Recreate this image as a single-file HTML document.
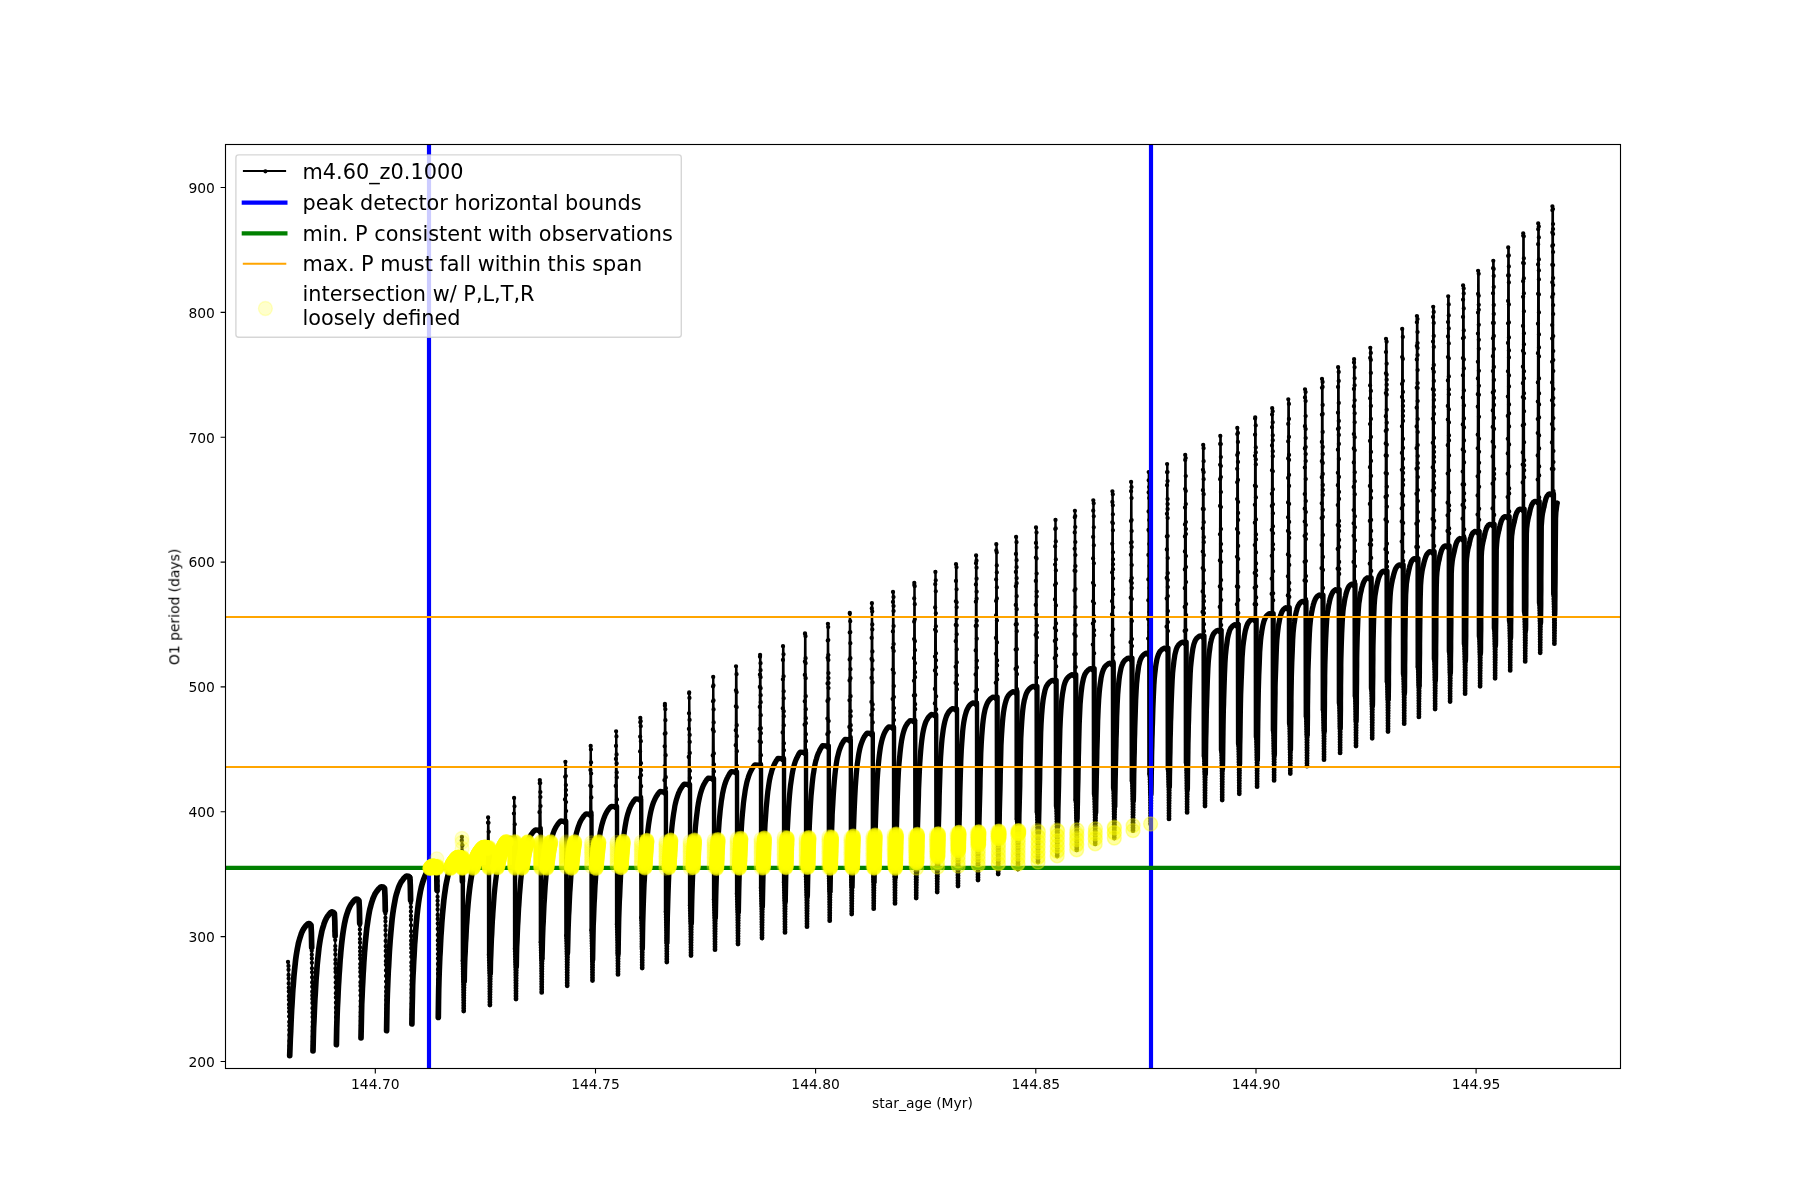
<!DOCTYPE html><html><head><meta charset="utf-8"><title>O1 period vs star_age</title>
<style>html,body{margin:0;padding:0;background:#fff}svg{display:block}text{font-family:'DejaVu Sans','Liberation Sans',sans-serif;fill:#000}.t{font-size:13.89px}.l{font-size:20.83px}.y{fill:#ff0;fill-opacity:.2;stroke:#ff0;stroke-opacity:.2;stroke-width:1.39}.w{fill:#ff0;fill-opacity:.36;stroke:#ff0;stroke-opacity:.36;stroke-width:1.39}.z{fill:#ff0;fill-opacity:.5;stroke:#ff0;stroke-opacity:.5;stroke-width:1.39}</style></head><body>
<svg width="1800" height="1200" viewBox="0 0 1800 1200">
<rect width="1800" height="1200" fill="#fff"/>
<defs><clipPath id="ax"><rect x="225" y="144" width="1395" height="924"/></clipPath></defs>
<g clip-path="url(#ax)">
<path d="M289.7,1055.7 290,1047 290.3,1038.8 290.7,1031 291,1023.7 291.3,1016.8 291.6,1010.3 292,1004.3 292.3,998.8 292.6,993.7 292.9,988.9 293.3,984.5 293.6,980.4 293.9,976.5 294.5,970.3 295.1,964.8 295.6,960 296.2,955.7 296.8,951.9 297.4,948.5 298,945.5 298.5,942.9 299.1,940.7 299.7,938.7 300.3,936.9 300.9,935 301.4,933.4 302,932 302.6,930.7 303.2,929.6 303.8,928.7 304.3,927.8 304.9,927.1 305.5,926.3 306.1,925.5 306.7,924.9 307.2,924.4 307.8,923.9 308.4,923.5 309.7,923.8 311,925 311.4,932.5 311.7,947.5M313,1051 313.3,1038.1 313.6,1027.8 314,1019.9 314.3,1012.5 314.6,1005.5 314.9,999 315.3,993 315.6,987.3 315.9,982.2 316.2,977.4 316.6,973 316.9,968.8 317.2,964.9 317.8,958.7 318.4,953.3 318.9,948.4 319.5,944.1 320.1,940.3 320.7,937 321.3,934 321.8,931.4 322.4,929.1 323,927.1 323.6,925.3 324.1,923.5 324.7,921.9 325.3,920.4 325.9,919.2 326.5,918.1 327,917.1 327.6,916.3 328.2,915.5 328.8,914.7 329.3,914 329.9,913.3 330.5,912.8 331.1,912.3 331.7,911.9 333.1,912.2 334.4,913.4 334.8,920.9 335.1,935.9M336.4,1044.6 336.7,1028.1 337.1,1015.7 337.4,1007.7 337.8,1000.2 338.1,993.1 338.4,986.5 338.8,980.4 339.1,974.7 339.5,969.5 339.8,964.7 340.1,960.2 340.5,956 340.8,952.1 341.4,946 342,940.5 342.6,935.7 343.2,931.4 343.8,927.6 344.4,924.2 345,921.3 345.6,918.6 346.2,916.4 346.8,914.4 347.4,912.6 348,910.8 348.6,909.2 349.3,907.7 349.9,906.5 350.5,905.4 351.1,904.4 351.7,903.5 352.3,902.8 352.9,902 353.5,901.2 354.1,900.6 354.7,900 355.3,899.5 355.9,899.1 357.7,899.4 359,900.6 359.4,908.1 359.7,923.1M361,1038 361.4,1018.7 361.7,1004.1 362.1,995.9 362.4,988.3 362.8,981.2 363.1,974.5 363.5,968.3 363.8,962.5 364.2,957.3 364.5,952.5 364.9,948 365.2,943.7 365.6,939.8 366.2,933.7 366.8,928.2 367.5,923.3 368.1,919.1 368.7,915.3 369.3,911.9 369.9,909 370.6,906.4 371.2,904.1 371.8,902.1 372.4,900.3 373,898.5 373.7,896.9 374.3,895.5 374.9,894.2 375.5,893.1 376.2,892.1 376.8,891.3 377.4,890.5 378,889.7 378.6,888.9 379.3,888.3 379.9,887.7 380.5,887.2 381.1,886.8 383.3,887.1 384.6,888.3 385,895.8 385.3,910.8M386.6,1030.7 386.8,1018 387,1005.6 387.3,995.2 387.5,989.9 387.7,984.8 387.9,979.9 388.1,975.2 388.3,970.7 388.6,966.4 388.8,962.4 389,958.5 389.2,954.7 389.4,951.1 390.1,941.4 390.8,932.9 391.5,925.6 392.1,919.2 392.8,913.7 393.5,908.9 394.2,904.7 394.9,901 395.5,897.7 396.2,894.9 396.9,892.6 397.6,890.4 398.2,888.5 398.9,886.6 399.6,885 400.3,883.6 400.9,882.4 401.6,881.3 402.3,880.4 403,879.5 403.7,878.6 404.3,877.8 405,877.2 405.7,876.6 406.4,876.1 408.6,876.4 409.9,877.6 410.3,885.1 410.6,900.1M411.9,1024 412.1,1009.4 412.4,997 412.6,985.9 412.8,980.5 413,975.3 413.3,970.3 413.5,965.5 413.7,961 414,956.6 414.2,952.5 414.4,948.5 414.6,944.8 414.9,941.1 415.6,931.4 416.3,922.9 417,915.6 417.7,909.3 418.4,903.7 419.1,898.9 419.8,894.7 420.5,891 421.2,887.8 421.9,885 422.6,882.6 423.3,880.5 424,878.5 424.7,876.7 425.4,875.1 426.1,873.7 426.8,872.4 427.5,871.4 428.2,870.4 428.9,869.6 429.6,868.6 430.3,867.9 431,867.2 431.7,866.6 432.4,866.1 435,866.4 436.3,867.6 436.8,875.1 437,890.1M438.3,1017.5 438.5,1001.9 438.7,989.6 439,978.3 439.2,972.3 439.4,967 439.6,961.9 439.8,957.1 440.1,952.4 440.3,948 440.5,943.8 440.7,939.8 440.9,936 441.2,932.3 441.8,922.6 442.5,914.1 443.2,906.8 443.8,900.5 444.5,894.9 445.2,890.1 445.8,885.9 446.5,882.3 447.2,879 447.8,876.2 448.5,873.8 449.2,871.7 449.8,869.8 450.5,867.9 451.2,866.3 451.8,864.9 452.5,863.7 453.2,862.6 453.9,861.6 454.5,860.8 455.2,859.9 455.9,859.1 456.5,858.4 457.2,857.8 457.9,857.3 460.4,857.6 461.7,858.8 462.1,866.3 462.4,881.3M464.2,980.9 464.4,969.6 464.6,962.9 464.8,957.4 465.1,952.3 465.3,947.3 465.5,942.7 465.8,938.2 466,933.9 466.2,929.9 466.4,926 466.7,922.3 467.3,912.6 468,904.1 468.7,896.8 469.4,890.5 470.1,884.9 470.8,880.1 471.5,875.9 472.1,872.2 472.8,869 473.5,866.2 474.2,863.8 474.9,861.7 475.6,859.8 476.2,857.9 476.9,856.3 477.6,854.9 478.3,853.7 479,852.6 479.7,851.6 480.4,850.8 481,849.8 481.7,849 482.4,848.4 483.1,847.8 483.8,847.3 486.6,847.6 487.9,848.8" fill="none" stroke="#000" stroke-width="5.7" stroke-linejoin="round" stroke-linecap="round"/>
<path d="M490.4,973.2 490.6,962 490.9,954.6 491.1,949 491.3,943.7 491.5,938.7 491.8,934 492,929.4 492.2,925.1 492.4,921 492.7,917 492.9,913.3 493.6,903.6 494.2,895.1 494.9,887.8 495.6,881.5 496.3,876 496.9,871.2 497.6,867 498.3,863.3 498.9,860.1 499.6,857.3 500.3,854.9 501,852.8 501.6,850.9 502.3,849 503,847.4 503.6,846 504.3,844.8 505,843.7 505.7,842.7 506.3,841.8 507,840.9 507.7,840.1 508.3,839.4 509,838.8 509.7,838.3 512.6,838.6 514,839.8M516.4,966.1 516.6,954.9 516.8,946.8 517.1,941.2 517.3,935.8 517.5,930.6 517.7,925.8 518,921.2 518.2,916.8 518.4,912.6 518.6,908.7 518.9,904.9 519.5,895.2 520.2,886.7 520.8,879.4 521.5,873.1 522.2,867.6 522.8,862.8 523.5,858.6 524.1,855 524.8,851.7 525.5,848.9 526.1,846.5 526.8,844.4 527.4,842.5 528.1,840.7 528.8,839.1 529.4,837.7 530.1,836.4 530.7,835.3 531.4,834.3 532.1,833.5 532.7,832.5 533.4,831.7 534,831 534.7,830.4 535.4,829.9 538.4,830.2 539.7,831.4M542.1,958.5 542.4,947.4 542.6,938.7 542.8,932.9 543,927.4 543.3,922.2 543.5,917.3 543.7,912.6 543.9,908.1 544.1,903.9 544.4,899.9 544.6,896 545.2,886.3 545.9,877.8 546.5,870.6 547.2,864.3 547.8,858.8 548.5,854 549.1,849.8 549.8,846.2 550.4,842.9 551.1,840.1 551.7,837.7 552.4,835.6 553,833.7 553.7,831.9 554.3,830.3 555,828.9 555.6,827.7 556.3,826.5 556.9,825.5 557.5,824.6 558.2,823.7 558.8,822.9 559.5,822.2 560.1,821.5 560.8,821 563.9,821.3 565.2,822.5M567.6,952.7 567.9,941.6 568.1,932.3 568.3,926.4 568.5,920.8 568.7,915.5 569,910.5 569.2,905.7 569.4,901.2 569.6,896.9 569.8,892.8 570.1,888.9 570.7,879.2 571.3,870.8 572,863.5 572.6,857.2 573.2,851.7 573.9,846.9 574.5,842.8 575.2,839.1 575.8,835.9 576.4,833.1 577.1,830.7 577.7,828.6 578.3,826.7 579,824.9 579.6,823.3 580.2,821.9 580.9,820.6 581.5,819.5 582.1,818.5 582.8,817.6 583.4,816.6 584.1,815.8 584.7,815.1 585.3,814.4 586,813.9 589.1,814.2 590.5,815.4M592.7,959.4 592.9,946.2 593.1,935.2 593.3,925.4 593.6,919.4 593.8,913.7 594,908.2 594.2,903.1 594.5,898.3 594.7,893.7 594.9,889.4 595.1,885.2 595.4,881.3 596,871.6 596.6,863.1 597.3,855.8 597.9,849.6 598.5,844.1 599.2,839.3 599.8,835.2 600.4,831.5 601.1,828.3 601.7,825.5 602.4,823.1 603,821 603.6,819.1 604.3,817.3 604.9,815.7 605.5,814.3 606.2,813.1 606.8,811.9 607.4,810.9 608.1,810 608.7,809 609.4,808.2 610,807.5 610.6,806.8 611.3,806.3 614.6,806.6 616,807.8M618.2,953.7 618.4,940 618.6,929 618.8,918.8 619,912.7 619.2,906.8 619.4,901.2 619.7,896 619.9,891.1 620.1,886.5 620.3,882.1 620.5,877.9 620.7,873.9 621.3,864.2 621.9,855.7 622.5,848.5 623.1,842.2 623.7,836.7 624.3,832 624.9,827.8 625.5,824.2 626.1,820.9 626.7,818.1 627.3,815.7 627.9,813.6 628.5,811.7 629.1,809.9 629.7,808.3 630.3,807 630.9,805.7 631.5,804.5 632.1,803.5 632.7,802.6 633.3,801.7 633.9,800.8 634.5,800.1 635.1,799.4 635.7,798.9 638.9,799.2 640.2,800.4M642.4,947.9 642.6,933.8 642.8,922.8 643.1,912.7 643.3,906 643.5,900 643.7,894.3 643.9,889 644.1,884 644.4,879.3 644.6,874.8 644.8,870.5 645,866.5 645.6,856.8 646.2,848.4 646.8,841.1 647.4,834.8 648,829.4 648.6,824.6 649.2,820.5 649.8,816.9 650.4,813.6 651,810.8 651.6,808.4 652.2,806.3 652.8,804.4 653.4,802.6 654.1,801 654.7,799.7 655.3,798.4 655.9,797.2 656.5,796.2 657.1,795.3 657.7,794.3 658.3,793.4 658.9,792.7 659.5,792 660.1,791.5 663.5,791.8 664.8,793M667,942.2 667.2,927.6 667.4,916.7 667.7,906.5 667.9,899.3 668.1,893.2 668.3,887.4 668.5,882 668.7,876.9 668.9,872.1 669.1,867.6 669.4,863.2 669.6,859.1 670.1,849.5 670.7,841 671.3,833.8 671.9,827.5 672.5,822 673.1,817.3 673.7,813.2 674.3,809.6 674.8,806.3 675.4,803.5 676,801.1 676.6,799 677.2,797.1 677.8,795.3 678.4,793.8 678.9,792.4 679.5,791.2 680.1,789.9 680.7,788.9 681.3,788 681.9,787 682.5,786.1 683,785.4 683.6,784.7 684.2,784.1 687.6,784.4 689,785.6M691.4,922.8 691.6,911.8 691.8,901.7 692,894 692.2,887.8 692.4,881.8 692.6,876.3 692.9,871.2 693.1,866.3 693.3,861.7 693.5,857.3 693.7,853.1 694.3,843.5 694.9,835 695.4,827.8 696,821.6 696.6,816.1 697.2,811.4 697.7,807.3 698.3,803.6 698.9,800.4 699.5,797.6 700.1,795.2 700.6,793.1 701.2,791.2 701.8,789.4 702.4,787.8 702.9,786.5 703.5,785.2 704.1,784 704.7,783 705.2,782 705.8,781.1 706.4,780.2 707,779.4 707.6,778.7 708.1,778.1 711.6,778.4 713,779.6M715.4,917.4 715.6,906.5 715.8,896.4 716,888.3 716.2,881.9 716.4,875.8 716.6,870.1 716.8,864.9 717,860 717.2,855.3 717.4,850.9 717.6,846.6 718.1,837 718.7,828.5 719.2,821.3 719.8,815.1 720.3,809.6 720.9,804.9 721.4,800.8 722,797.2 722.5,793.9 723.1,791.1 723.6,788.7 724.2,786.6 724.7,784.7 725.3,783 725.8,781.4 726.4,780 726.9,778.8 727.5,777.6 728,776.5 728.6,775.6 729.1,774.6 729.6,773.7 730.2,772.9 730.7,772.2 731.3,771.6 734.6,771.9 736,773.1M738.4,911.7 738.6,900.8 738.8,890.8 739,882.3 739.2,875.7 739.4,869.5 739.6,863.7 739.9,858.4 740.1,853.4 740.3,848.6 740.5,844.1 740.7,839.8 741.3,830.2 741.8,821.8 742.4,814.5 743,808.3 743.5,802.8 744.1,798.1 744.7,794.1 745.2,790.5 745.8,787.2 746.4,784.4 746.9,782 747.5,779.9 748.1,778 748.6,776.2 749.2,774.7 749.8,773.3 750.3,772.1 750.9,770.9 751.5,769.8 752,768.8 752.6,767.9 753.2,766.9 753.7,766.1 754.3,765.4 754.9,764.8 758.6,765.1 760,766.3M762.4,906.2 762.6,895.4 762.8,885.4 763,876.6 763.2,869.9 763.4,863.5 763.6,857.6 763.8,852.2 764,847.1 764.2,842.2 764.4,837.7 764.6,833.3 765.1,823.7 765.7,815.3 766.2,808 766.8,801.8 767.3,796.4 767.8,791.7 768.4,787.6 768.9,784 769.4,780.8 770,777.9 770.5,775.5 771.1,773.4 771.6,771.5 772.1,769.8 772.7,768.2 773.2,766.9 773.7,765.7 774.3,764.4 774.8,763.3 775.4,762.4 775.9,761.4 776.4,760.4 777,759.7 777.5,758.9 778,758.3 781.6,758.6 783,759.8M785.3,901.1 785.5,890.3 785.7,880.3 785.9,871.2 786.1,864.3 786.3,857.8 786.5,851.7 786.7,846.2 786.9,841 787.1,836.1 787.3,831.5 787.5,827.1 788,817.5 788.5,809 789,801.8 789.5,795.6 790,790.2 790.5,785.5 791.1,781.4 791.6,777.8 792.1,774.6 792.6,771.7 793.1,769.4 793.6,767.2 794.1,765.3 794.6,763.6 795.1,762.1 795.6,760.7 796.1,759.5 796.7,758.3 797.2,757.2 797.7,756.2 798.2,755.2 798.7,754.2 799.2,753.4 799.7,752.7 800.2,752.1 803.6,752.4 805,753.6M807.4,895.6 807.6,884.9 807.8,874.9 808,865.6 808.2,858.6 808.4,851.9 808.6,845.6 808.8,840.1 809,834.8 809.2,829.8 809.4,825.1 809.6,820.6 810.1,811 810.6,802.6 811.1,795.4 811.7,789.2 812.2,783.8 812.7,779.1 813.2,775 813.8,771.5 814.3,768.2 814.8,765.4 815.3,763 815.8,760.9 816.4,759 816.9,757.2 817.4,755.7 817.9,754.3 818.4,753.1 819,751.9 819.5,750.8 820,749.8 820.5,748.8 821.1,747.8 821.6,747 822.1,746.3 822.6,745.6 826.4,745.9 827.7,747.1M830.1,891.2 830.3,880.3 830.5,870.5 830.7,861.4 830.9,853.8 831.1,847 831.3,840.6 831.5,834.7 831.7,829.2 831.9,824 832.1,819.1 832.2,814.4 832.8,804.1 833.3,795.2 833.8,787.8 834.3,781.6 834.8,776.2 835.3,771.5 835.8,767.5 836.3,763.9 836.8,760.7 837.3,758 837.9,755.7 838.4,753.6 838.9,751.8 839.4,750.1 839.9,748.7 840.4,747.4 840.9,746.2 841.4,745 841.9,744 842.4,743.1 843,742.2 843.5,741.3 844,740.6 844.5,740 845,739.4 848.4,739.7 849.7,740.9M852.1,886.5 852.3,875.7 852.5,866 852.7,857 852.9,849.1 853.1,842.2 853.3,835.7 853.5,829.5 853.7,823.7 853.9,818.2 854.1,813 854.3,808.2 854.8,797.1 855.3,787.6 855.8,780.3 856.3,774 856.8,768.6 857.3,763.9 857.9,759.9 858.4,756.3 858.9,753.2 859.4,750.7 859.9,748.4 860.4,746.5 860.9,744.7 861.5,743.1 862,741.7 862.5,740.5 863,739.3 863.5,738.2 864,737.3 864.5,736.4 865.1,735.6 865.6,734.9 866.1,734.2 866.6,733.7 867.1,733.2 870.4,733.5 871.7,734.7M874.1,881.8 874.3,870.9 874.5,861.4 874.6,852.5 874.8,844.5 875,837.4 875.2,830.7 875.4,824.3 875.6,818.2 875.8,812.4 876,807 876.2,801.9 876.7,790 877.2,779.9 877.7,772.6 878.2,766.3 878.7,760.9 879.2,756.3 879.7,752.3 880.2,748.8 880.7,745.8 881.2,743.4 881.7,741.2 882.2,739.3 882.7,737.6 883.2,736.1 883.7,734.8 884.2,733.6 884.7,732.4 885.2,731.5 885.7,730.6 886.2,729.8 886.7,729.1 887.2,728.4 887.7,727.9 888.2,727.4 888.7,726.9 891.6,727.2 893,728.4M895.3,877 895.5,866 895.7,856.7 895.9,847.9 896.1,839.8 896.3,832.5 896.5,825.7 896.7,819.2 896.9,812.7 897,806.6 897.2,800.9 897.4,795.6 897.9,782.7 898.4,772.3 898.9,764.9 899.5,758.6 900,753.2 900.5,748.6 901,744.6 901.5,741.1 902,738.4 902.5,736 903,733.9 903.5,732.1 904,730.4 904.5,729 905,727.8 905.5,726.6 906,725.6 906.6,724.7 907.1,723.9 907.6,723.2 908.1,722.5 908.6,722 909.1,721.5 909.6,721 910.1,720.6 912.9,720.9 914.2,722.1M916.6,872.3 916.8,861.3 917,852.1 917.1,843.4 917.3,835.3 917.5,827.9 917.7,821 917.9,814.4 918.1,807.5 918.3,801.1 918.5,795.1 918.6,789.5 919.2,775.4 919.7,764.8 920.2,757.4 920.7,751 921.2,745.6 921.7,741 922.2,737.1 922.7,733.8 923.2,731.2 923.7,728.9 924.2,726.9 924.7,725.1 925.2,723.6 925.7,722.2 926.2,721 926.8,720 927.3,719.1 927.8,718.2 928.3,717.5 928.8,716.8 929.3,716.3 929.8,715.8 930.3,715.3 930.8,714.9 931.3,714.5 933.9,714.8 935.2,716M937.6,867.5 937.8,856.8 937.9,847.7 938.1,839.2 938.3,831.2 938.5,823.6 938.7,816.5 938.9,809.9 939.1,802.7 939.2,795.9 939.4,789.6 939.6,783.7 940.1,768.3 940.6,757.5 941.1,750.1 941.6,743.7 942.1,738.3 942.7,733.7 943.2,729.9 943.7,726.9 944.2,724.3 944.7,722.1 945.2,720.2 945.7,718.5 946.2,717 946.7,715.7 947.2,714.6 947.7,713.7 948.2,712.8 948.7,712.1 949.2,711.4 949.7,710.8 950.2,710.3 950.7,709.8 951.2,709.4 951.7,709 952.3,708.7 954.6,709 956,710.2M958.5,852.3 958.7,843.3 958.8,834.9 959,827 959.2,819.4 959.4,812.2 959.6,805.4 959.7,798.1 959.9,790.9 960.1,784.1 960.3,777.9 960.8,760.9 961.3,750.3 961.8,742.8 962.3,736.4 962.7,731 963.2,726.5 963.7,722.8 964.2,720 964.7,717.5 965.2,715.4 965.7,713.6 966.2,711.9 966.7,710.5 967.2,709.4 967.7,708.4 968.2,707.5 968.6,706.7 969.1,706 969.6,705.4 970.1,704.9 970.6,704.4 971.1,704 971.6,703.6 972.1,703.2 972.6,702.9 974.6,703.2 976,704.4M978.5,847.7 978.7,838.8 978.9,830.5 979,822.7 979.2,815.2 979.4,807.8 979.6,800.9 979.8,793.6 980,785.8 980.1,778.7 980.3,772.1 980.8,753.1 981.3,743 981.8,735.4 982.3,729 982.8,723.6 983.3,719.3 983.8,715.8 984.3,713.1 984.8,710.7 985.3,708.7 985.9,706.9 986.4,705.4 986.9,704.1 987.4,703 987.9,702.1 988.4,701.3 988.9,700.6 989.4,700 989.9,699.4 990.4,698.9 990.9,698.5 991.4,698.1 991.9,697.7 992.4,697.4 992.9,697.1 994.9,697.4 996.2,698.6M998.7,843.4 998.9,834.7 999.1,826.5 999.3,818.8 999.4,811.5 999.6,803.9 999.8,796.8 1000,789.6 1000.2,781.3 1000.3,773.7 1000.5,766.7 1001,745.4 1001.5,736 1002,728.4 1002.5,721.9 1003,716.6 1003.5,712.4 1004,709.3 1004.5,706.6 1005,704.3 1005.5,702.4 1006,700.7 1006.5,699.3 1007,698.1 1007.4,697.1 1007.9,696.3 1008.4,695.5 1008.9,694.9 1009.4,694.3 1009.9,693.8 1010.4,693.4 1010.9,693 1011.4,692.6 1011.9,692.2 1012.4,691.9 1012.9,691.7 1014.6,692 1016,693.2M1018.5,839.3 1018.7,830.6 1018.9,822.6 1019,814.9 1019.2,807.7 1019.4,800.2 1019.6,792.9 1019.8,786 1019.9,777 1020.1,768.9 1020.3,761.4 1020.8,738.3 1021.3,729.1 1021.8,721.4 1022.3,714.9 1022.8,709.8 1023.3,705.9 1023.8,702.9 1024.3,700.3 1024.9,698.2 1025.4,696.3 1025.9,694.7 1026.4,693.4 1026.9,692.4 1027.4,691.5 1027.9,690.7 1028.4,690 1028.9,689.4 1029.4,688.9 1029.9,688.4 1030.4,688 1030.9,687.6 1031.4,687.3 1031.9,686.9 1032.4,686.7 1033,686.4 1034.7,686.7 1036,687.9M1038.5,832.3 1038.6,823.6 1038.8,815.5 1039,807.7 1039.1,800.5 1039.3,792.8 1039.5,785.6 1039.7,778.4 1039.8,770 1040,762.3 1040.2,755.3 1040.7,733.2 1041.1,723.6 1041.6,715.6 1042.1,709.2 1042.6,704.1 1043.1,700 1043.6,697 1044.1,694.4 1044.6,692.2 1045,690.3 1045.5,688.7 1046,687.3 1046.5,686.3 1047,685.4 1047.5,684.6 1048,683.9 1048.5,683.3 1048.9,682.8 1049.4,682.3 1049.9,681.9 1050.4,681.5 1050.9,681.2 1051.4,680.8 1051.9,680.6 1052.4,680.3 1053.9,680.6 1055.2,681.8M1057.7,825.8 1057.9,817 1058,808.7 1058.2,800.9 1058.4,793.5 1058.6,785.8 1058.7,778.7 1058.9,771.3 1059.1,763.5 1059.2,756.3 1059.4,749.7 1059.9,729.2 1060.4,718.5 1060.9,710.3 1061.4,703.9 1061.9,698.8 1062.4,694.7 1062.9,691.6 1063.4,688.9 1063.8,686.6 1064.3,684.7 1064.8,683.1 1065.3,681.7 1065.8,680.7 1066.3,679.7 1066.8,678.9 1067.3,678.2 1067.8,677.6 1068.3,677.1 1068.8,676.7 1069.3,676.2 1069.8,675.9 1070.3,675.5 1070.8,675.2 1071.3,674.9 1071.8,674.7 1073.4,675 1074.7,676.2M1077.2,818.8 1077.3,809.8 1077.5,801.4 1077.6,793.5 1077.8,785.9 1078,778.3 1078.1,771.3 1078.3,763.9 1078.4,756.6 1078.6,749.8 1078.7,743.6 1079.2,724.5 1079.7,713.1 1080.1,704.4 1080.6,698.2 1081.1,693 1081.6,688.9 1082,685.7 1082.5,682.9 1083,680.6 1083.4,678.7 1083.9,677 1084.4,675.6 1084.8,674.5 1085.3,673.6 1085.8,672.8 1086.3,672.1 1086.7,671.5 1087.2,671 1087.7,670.5 1088.1,670.1 1088.6,669.7 1089.1,669.4 1089.5,669.1 1090,668.8 1090.5,668.6 1091.9,668.9 1093.2,670.1M1095.7,812.4 1095.8,803.4 1096,794.8 1096.2,786.8 1096.3,779 1096.5,771.6 1096.6,764.6 1096.8,757.3 1096.9,750.5 1097.1,744.1 1097.3,738.2 1097.7,720.5 1098.2,708.4 1098.7,699.4 1099.2,693.1 1099.7,688 1100.2,683.9 1100.7,680.6 1101.1,677.7 1101.6,675.4 1102.1,673.4 1102.6,671.8 1103.1,670.3 1103.6,669.2 1104.1,668.3 1104.5,667.4 1105,666.7 1105.5,666.1 1106,665.6 1106.5,665.2 1107,664.7 1107.5,664.4 1107.9,664 1108.4,663.7 1108.9,663.5 1109.4,663.2 1111,663.5 1112.3,664.7M1114.8,806.2 1114.9,796.9 1115.1,788.3 1115.2,780.1 1115.4,772.3 1115.5,764.9 1115.7,758 1115.8,751.1 1116,744.7 1116.1,738.7 1116.3,733.1 1116.7,716.4 1117.2,704.1 1117.7,694.6 1118.2,688.3 1118.7,683.2 1119.1,679.1 1119.6,675.7 1120.1,672.7 1120.6,670.3 1121,668.3 1121.5,666.6 1122,665.2 1122.5,664.1 1122.9,663.1 1123.4,662.2 1123.9,661.5 1124.4,660.9 1124.8,660.4 1125.3,660 1125.8,659.6 1126.3,659.2 1126.7,658.9 1127.2,658.6 1127.7,658.3 1128.2,658.1 1129.7,658.4 1131,659.6M1133.4,800.1 1133.6,790.7 1133.7,781.9 1133.8,773.6 1134,765.8 1134.1,758.5 1134.3,751.6 1134.4,745.2 1134.5,739.2 1134.7,733.5 1134.8,728.2 1135.3,712.6 1135.7,700 1136.2,690.1 1136.6,683.8 1137.1,678.7 1137.5,674.6 1138,671.1 1138.4,668.1 1138.8,665.6 1139.3,663.6 1139.7,661.8 1140.2,660.4 1140.6,659.2 1141.1,658.2 1141.5,657.4 1142,656.6 1142.4,656.1 1142.9,655.6 1143.3,655.1 1143.8,654.7 1144.2,654.3 1144.7,654 1145.1,653.7 1145.6,653.5 1146,653.2 1147.3,653.5 1148.6,654.7M1151,793.7 1151.2,784.1 1151.3,775.2 1151.5,766.8 1151.6,759 1151.7,751.8 1151.9,745.2 1152,739.1 1152.2,733.5 1152.3,728.2 1152.5,723.2 1152.9,708.4 1153.4,695.9 1153.9,685.4 1154.3,679 1154.8,673.9 1155.3,669.8 1155.7,666.3 1156.2,663.2 1156.7,660.6 1157.1,658.6 1157.6,656.8 1158.1,655.3 1158.6,654.2 1159,653.2 1159.5,652.3 1160,651.5 1160.4,651 1160.9,650.5 1161.4,650 1161.8,649.6 1162.3,649.2 1162.8,648.9 1163.2,648.6 1163.7,648.4 1164.2,648.2 1165.7,648.5 1167,649.7M1169.4,786.2 1169.5,776.4 1169.7,767.3 1169.8,758.9 1170,751.2 1170.1,744.1 1170.2,737.9 1170.4,732.2 1170.5,726.9 1170.6,721.9 1170.8,717.1 1171.2,703.1 1171.7,690.9 1172.2,679.8 1172.6,673.3 1173.1,668.2 1173.6,664.1 1174,660.5 1174.5,657.3 1174.9,654.7 1175.4,652.6 1175.9,650.8 1176.3,649.3 1176.8,648.1 1177.2,647.1 1177.7,646.2 1178.2,645.5 1178.6,644.9 1179.1,644.4 1179.6,644 1180,643.6 1180.5,643.2 1180.9,642.9 1181.4,642.6 1181.9,642.4 1182.3,642.1 1183.8,642.4 1185.1,643.6M1187.4,788.9 1187.5,778.2 1187.6,768.2 1187.8,758.9 1187.9,750.6 1188,743 1188.2,736 1188.3,730.3 1188.4,725 1188.6,720 1188.7,715.2 1188.8,710.8 1189.3,697.4 1189.7,685.6 1190.2,673.8 1190.6,667.2 1191.1,662.2 1191.6,658 1192,654.4 1192.5,651.1 1192.9,648.4 1193.4,646.3 1193.8,644.5 1194.3,643 1194.8,641.8 1195.2,640.7 1195.7,639.8 1196.1,639.1 1196.6,638.5 1197,638 1197.5,637.6 1198,637.2 1198.4,636.8 1198.9,636.5 1199.3,636.2 1199.8,636 1200.2,635.8 1201.7,636.1 1203,637.3M1205.4,773.5 1205.5,763.5 1205.6,754.2 1205.7,745.8 1205.8,738.1 1206,731 1206.1,725.2 1206.2,719.8 1206.3,714.7 1206.4,709.9 1206.6,705.3 1207,691.9 1207.4,680.1 1207.9,668.5 1208.3,661.8 1208.8,656.8 1209.2,652.8 1209.7,649.3 1210.1,646.1 1210.5,643.4 1211,641.3 1211.4,639.4 1211.9,637.9 1212.3,636.6 1212.7,635.5 1213.2,634.6 1213.6,633.8 1214.1,633.2 1214.5,632.7 1215,632.2 1215.4,631.8 1215.8,631.4 1216.3,631.1 1216.7,630.8 1217.2,630.6 1217.6,630.3 1218.9,630.6 1220.2,631.8M1222.5,768.7 1222.7,758.6 1222.8,749.3 1222.9,740.8 1223,733.1 1223.1,725.9 1223.2,719.9 1223.3,714.4 1223.4,709.2 1223.6,704.4 1223.7,699.7 1224.1,686.3 1224.5,674.4 1225,663 1225.4,656.3 1225.9,651.2 1226.3,647.4 1226.8,644 1227.2,640.9 1227.6,638.2 1228.1,636 1228.5,634.2 1229,632.6 1229.4,631.2 1229.8,630.1 1230.3,629.1 1230.7,628.3 1231.2,627.7 1231.6,627.1 1232.1,626.6 1232.5,626.2 1232.9,625.8 1233.4,625.5 1233.8,625.2 1234.3,625 1234.7,624.7 1236,625 1237.3,626.2M1239.6,764 1239.7,754 1239.8,744.7 1240,736.1 1240.1,728.3 1240.2,721 1240.3,714.8 1240.4,709.2 1240.5,703.9 1240.6,698.9 1240.7,694.2 1241.2,680.7 1241.7,668.8 1242.1,657.6 1242.6,650.8 1243,645.8 1243.5,642 1244,638.7 1244.4,635.7 1244.9,633.1 1245.3,630.9 1245.8,629 1246.3,627.4 1246.7,626 1247.2,624.8 1247.7,623.8 1248.1,622.9 1248.6,622.3 1249,621.7 1249.5,621.2 1250,620.7 1250.4,620.3 1250.9,620 1251.4,619.7 1251.8,619.5 1252.3,619.2 1253.8,619.5 1255.1,620.7M1257.4,759.4 1257.5,749.4 1257.6,740.1 1257.7,731.4 1257.8,723.5 1257.9,716.2 1258,709.7 1258.1,704 1258.2,698.6 1258.3,693.4 1258.4,688.6 1258.8,675 1259.3,663.1 1259.7,652.1 1260.2,645.3 1260.6,640.2 1261,636.6 1261.5,633.4 1261.9,630.4 1262.4,627.8 1262.8,625.6 1263.3,623.7 1263.7,622.1 1264.1,620.7 1264.6,619.5 1265,618.4 1265.5,617.5 1265.9,616.8 1266.4,616.2 1266.8,615.6 1267.2,615.2 1267.7,614.8 1268.1,614.4 1268.6,614.1 1269,613.9 1269.5,613.6 1270.8,613.9 1272.1,615.1M1274.4,754.5 1274.4,744.5 1274.5,735.2 1274.6,726.5 1274.7,718.5 1274.8,711 1274.9,704.4 1275,698.4 1275.1,692.8 1275.1,687.6 1275.2,682.7 1275.7,669 1276.1,657.1 1276.5,646.2 1276.9,639.4 1277.4,634.3 1277.8,630.7 1278.2,627.7 1278.6,624.7 1279.1,622.2 1279.5,620 1279.9,618.1 1280.3,616.4 1280.8,615 1281.2,613.7 1281.6,612.6 1282,611.7 1282.5,610.9 1282.9,610.3 1283.3,609.7 1283.7,609.2 1284.2,608.8 1284.6,608.5 1285,608.2 1285.4,607.9 1285.9,607.7 1287,608 1288.3,609.2M1290.5,749.4 1290.6,739.4 1290.7,730.1 1290.8,721.4 1290.9,713.2 1291,705.6 1291,698.7 1291.1,692.5 1291.2,686.8 1291.3,681.3 1291.4,676.3 1291.8,662.5 1292.3,650.6 1292.7,639.8 1293.1,633 1293.6,627.9 1294,624.4 1294.5,621.4 1294.9,618.6 1295.3,616.1 1295.8,613.9 1296.2,612 1296.7,610.3 1297.1,608.8 1297.5,607.5 1298,606.4 1298.4,605.4 1298.9,604.6 1299.3,603.9 1299.7,603.4 1300.2,602.9 1300.6,602.4 1301.1,602.1 1301.5,601.8 1302,601.5 1302.4,601.3 1303.7,601.6 1305,602.8M1307.3,734.6 1307.4,725.3 1307.5,716.6 1307.5,708.3 1307.6,700.6 1307.7,693.4 1307.8,687 1307.9,680.9 1307.9,675.3 1308,670 1308.5,656.2 1308.9,644.3 1309.4,633.7 1309.8,626.9 1310.3,621.8 1310.7,618.3 1311.2,615.4 1311.6,612.6 1312.1,610.2 1312.5,608 1313,606.1 1313.4,604.4 1313.9,602.9 1314.3,601.6 1314.8,600.4 1315.2,599.4 1315.7,598.5 1316.1,597.8 1316.6,597.2 1317,596.7 1317.5,596.2 1317.9,595.9 1318.4,595.6 1318.8,595.3 1319.3,595 1320.7,595.3 1322,596.5M1324.3,731 1324.3,721.7 1324.4,713 1324.5,704.7 1324.5,696.7 1324.6,689.3 1324.7,682.5 1324.7,676.1 1324.8,670.2 1324.9,664.7 1325.3,650.8 1325.7,638.9 1326.2,628.4 1326.6,621.6 1327,616.4 1327.4,613 1327.9,610.2 1328.3,607.5 1328.7,605.1 1329.2,603 1329.6,601 1330,599.3 1330.4,597.8 1330.9,596.5 1331.3,595.2 1331.7,594.2 1332.2,593.3 1332.6,592.5 1333,591.9 1333.5,591.3 1333.9,590.9 1334.3,590.5 1334.7,590.2 1335.2,589.9 1335.6,589.7 1336.8,590 1338.1,591.2M1340.3,727.6 1340.4,718.3 1340.5,709.6 1340.5,701.3 1340.6,693 1340.6,685.4 1340.7,678.1 1340.8,671.3 1340.8,665 1340.9,659.1 1341.3,645.1 1341.7,633.3 1342.2,622.9 1342.6,616.1 1343,611 1343.4,607.6 1343.9,604.8 1344.3,602.2 1344.7,599.8 1345.1,597.7 1345.6,595.8 1346,594 1346.4,592.5 1346.8,591.2 1347.3,589.9 1347.7,588.8 1348.1,587.9 1348.5,587.1 1349,586.4 1349.4,585.8 1349.8,585.3 1350.2,585 1350.7,584.7 1351.1,584.4 1351.5,584.1 1352.7,584.4 1354,585.6M1356.2,720.4 1356.3,711.9 1356.4,703.9 1356.4,696.1 1356.5,688.1 1356.6,680.5 1356.6,673 1356.7,665.7 1356.7,659 1356.8,652.8 1357.2,637.4 1357.7,624.5 1358.1,613.7 1358.5,608 1358.9,603.3 1359.4,600.3 1359.8,597.7 1360.2,595.2 1360.6,593 1361.1,591.1 1361.5,589.2 1361.9,587.5 1362.4,586 1362.8,584.7 1363.2,583.4 1363.6,582.4 1364.1,581.4 1364.5,580.7 1364.9,580 1365.3,579.4 1365.8,579 1366.2,578.6 1366.6,578.3 1367,578 1367.5,577.8 1368.9,578.1 1370.2,579.3M1372.5,705.3 1372.6,697.9 1372.6,690.7 1372.7,682.8 1372.8,675.4 1372.8,667.9 1372.9,660.1 1372.9,652.9 1373,646.2 1373.4,629.1 1373.8,615 1374.2,605.2 1374.6,599.7 1375,595.7 1375.5,592.9 1375.9,590.4 1376.3,588.1 1376.7,586.1 1377.1,584.3 1377.5,582.4 1377.9,580.8 1378.3,579.3 1378.7,578 1379.1,576.8 1379.5,575.8 1379.9,574.9 1380.4,574.1 1380.8,573.5 1381.2,572.9 1381.6,572.4 1382,572.1 1382.4,571.7 1382.8,571.5 1383.2,571.2 1384.7,571.5 1386,572.7M1388.3,698.9 1388.4,691.9 1388.5,685.3 1388.5,677.6 1388.6,670.3 1388.6,663 1388.7,654.6 1388.8,646.9 1388.8,639.8 1389.2,620.4 1389.7,605 1390.1,596.8 1390.5,591.6 1390.9,588.3 1391.3,585.6 1391.7,583.3 1392.1,581.2 1392.5,579.3 1393,577.6 1393.4,575.8 1393.8,574.2 1394.2,572.8 1394.6,571.5 1395,570.3 1395.4,569.3 1395.8,568.4 1396.2,567.7 1396.7,567 1397.1,566.5 1397.5,566 1397.9,565.7 1398.3,565.3 1398.7,565.1 1399.1,564.8 1400.9,565.1 1402.2,566.3M1404.5,692.7 1404.6,686.1 1404.6,679.8 1404.7,672.5 1404.7,665.3 1404.8,658.6 1404.9,649.5 1404.9,641.2 1405,633.6 1405.3,611 1405.7,594.5 1406.1,588.6 1406.4,584 1406.8,581.1 1407.2,578.6 1407.5,576.5 1407.9,574.6 1408.3,572.8 1408.6,571.2 1409,569.4 1409.4,567.8 1409.7,566.4 1410.1,565.2 1410.5,564 1410.8,563 1411.2,562.1 1411.6,561.4 1411.9,560.8 1412.3,560.2 1412.7,559.8 1413,559.4 1413.4,559.1 1413.8,558.9 1414.1,558.6 1415.6,558.9 1416.9,560.1M1419.2,685.7 1419.3,679.5 1419.4,673.5 1419.4,666.6 1419.5,659.5 1419.6,652.8 1419.6,643.7 1419.7,634.8 1419.8,626.7 1420.2,599.5 1420.6,585.3 1421,579.7 1421.4,575.9 1421.8,573.2 1422.1,570.9 1422.5,568.9 1422.9,567.2 1423.3,565.6 1423.7,563.9 1424.1,562.2 1424.5,560.6 1424.9,559.3 1425.3,558.1 1425.7,556.9 1426.1,555.9 1426.5,555.1 1426.9,554.4 1427.3,553.8 1427.7,553.3 1428.1,552.8 1428.5,552.5 1428.9,552.2 1429.3,551.9 1429.7,551.7 1431.8,552 1433.1,553.2M1435.4,679.9 1435.5,674 1435.5,668.3 1435.6,661.7 1435.7,654.8 1435.7,648.2 1435.8,639.2 1435.9,629.6 1435.9,620.9 1436.3,587.3 1436.6,577.2 1437,571.9 1437.4,569.1 1437.7,566.5 1438.1,564.5 1438.4,562.7 1438.8,561 1439.2,559.5 1439.5,557.9 1439.9,556.2 1440.2,554.7 1440.6,553.4 1441,552.2 1441.3,551 1441.7,550.1 1442,549.3 1442.4,548.6 1442.8,548 1443.1,547.5 1443.5,547 1443.8,546.7 1444.2,546.4 1444.6,546.1 1444.9,545.9 1446.8,546.2 1448.1,547.4M1450.4,672.6 1450.5,666.9 1450.5,661.4 1450.6,655.2 1450.7,648.4 1450.7,641.9 1450.8,633.3 1450.9,622.9 1450.9,613.5 1451.3,573.5 1451.6,567.6 1452,563.4 1452.3,560.7 1452.7,558.3 1453.1,556.5 1453.4,554.8 1453.8,553.3 1454.1,551.9 1454.5,550.2 1454.8,548.6 1455.2,547.1 1455.5,545.9 1455.9,544.7 1456.2,543.6 1456.6,542.6 1456.9,541.8 1457.3,541.2 1457.6,540.6 1458,540.1 1458.3,539.7 1458.7,539.3 1459.1,539 1459.4,538.8 1459.8,538.5 1461.8,538.8 1463.1,540M1465.5,660.1 1465.6,654.8 1465.6,649.1 1465.7,642.3 1465.8,635.8 1465.8,627.9 1465.9,616.6 1466,606.5 1466.3,563.9 1466.6,558.4 1467,555.2 1467.3,552.7 1467.7,550.6 1468,548.9 1468.4,547.4 1468.7,546 1469.1,544.7 1469.4,542.9 1469.8,541.4 1470.1,540 1470.4,538.7 1470.8,537.5 1471.1,536.5 1471.5,535.6 1471.8,534.8 1472.2,534.1 1472.5,533.5 1472.9,533 1473.2,532.6 1473.6,532.3 1473.9,532 1474.3,531.8 1474.6,531.5 1476.8,531.8 1478.1,533M1480.5,652.9 1480.6,647.6 1480.6,641.9 1480.7,635.1 1480.8,628.7 1480.8,620.7 1480.9,609.4 1481,599.3 1481.3,556.7 1481.6,551.2 1482,548 1482.3,545.5 1482.7,543.4 1483,541.7 1483.4,540.2 1483.7,538.8 1484.1,537.5 1484.4,535.7 1484.8,534.2 1485.1,532.8 1485.4,531.5 1485.8,530.3 1486.1,529.3 1486.5,528.4 1486.8,527.6 1487.2,526.9 1487.5,526.3 1487.9,525.8 1488.2,525.4 1488.6,525.1 1488.9,524.8 1489.3,524.6 1489.6,524.3 1491.8,524.6 1493.1,525.8M1495.5,645.1 1495.6,639.9 1495.6,634.1 1495.7,627.3 1495.8,620.9 1495.8,613 1495.9,601.6 1496,591.6 1496.3,549 1496.7,543.4 1497,540.3 1497.3,537.7 1497.7,535.7 1498,534 1498.4,532.5 1498.7,531 1499.1,529.7 1499.4,528 1499.8,526.4 1500.1,525 1500.5,523.8 1500.8,522.6 1501.2,521.5 1501.5,520.6 1501.9,519.8 1502.2,519.2 1502.6,518.6 1502.9,518.1 1503.3,517.7 1503.6,517.4 1504,517.1 1504.3,516.8 1504.7,516.6 1506.9,516.9 1508.2,518.1M1510.6,637.6 1510.7,632.4 1510.7,626.6 1510.8,619.8 1510.9,613.4 1510.9,605.5 1511,594.1 1511,584.1 1511.4,541.5 1511.7,535.9 1512.1,532.8 1512.4,530.2 1512.8,528.2 1513.1,526.5 1513.5,525 1513.8,523.5 1514.2,522.2 1514.5,520.5 1514.9,518.9 1515.2,517.5 1515.5,516.3 1515.9,515.1 1516.2,514 1516.6,513.1 1516.9,512.3 1517.3,511.7 1517.6,511.1 1518,510.6 1518.3,510.2 1518.7,509.9 1519,509.6 1519.4,509.3 1519.7,509.1 1521.9,509.4 1523.2,510.6M1525.6,629.9 1525.7,624.6 1525.7,618.9 1525.8,612.1 1525.9,605.7 1525.9,597.7 1526,586.4 1526,576.4 1526.4,533.8 1526.7,528.2 1527.1,525 1527.4,522.5 1527.8,520.4 1528.1,518.8 1528.5,517.2 1528.8,515.8 1529.2,514.5 1529.5,512.8 1529.9,511.2 1530.2,509.8 1530.5,508.5 1530.9,507.3 1531.2,506.3 1531.6,505.4 1531.9,504.6 1532.3,503.9 1532.6,503.4 1533,502.9 1533.3,502.4 1533.7,502.1 1534,501.8 1534.4,501.6 1534.7,501.4 1536.9,501.7 1538.2,502.9M1540.6,622.4 1540.6,617.2 1540.7,611.4 1540.8,604.6 1540.8,598.2 1540.9,590.3 1540.9,578.9 1541,568.9 1541.3,526.3 1541.7,520.7 1542,517.6 1542.3,515 1542.6,513 1543,511.3 1543.3,509.7 1543.6,508.3 1544,507 1544.3,505.3 1544.6,503.7 1544.9,502.3 1545.3,501.1 1545.6,499.9 1545.9,498.8 1546.2,497.9 1546.6,497.1 1546.9,496.5 1547.2,495.9 1547.6,495.4 1547.9,495 1548.2,494.7 1548.5,494.4 1548.9,494.1 1549.2,493.9 1551.1,494.2 1552.4,495.4M1554.8,614.2 1554.9,608.9 1554.9,603.1 1555,596.3 1555,589.9 1555.1,582 1555.2,570.7 1555.2,560.6 1555.6,518 1555.9,512.5 1556.3,509.3 1556.6,506.8 1556.9,504.7 1557.3,503" fill="none" stroke="#000" stroke-width="5.3" stroke-linejoin="round" stroke-linecap="round"/>
<g fill="none" stroke="#000" stroke-linejoin="round" stroke-linecap="round">
<path stroke-width="3.2" d="M463.7,1011.1 463.9,993.2 464.2,980.9M489.9,1005 490.2,985.4 490.4,973.2M516,999 516.2,978.3 516.4,966.1M541.7,992.4 541.9,970.6 542.1,958.5M567.2,985.8 567.4,965.2 567.6,952.7M592.5,980.5 592.7,959.4M618,974.4 618.2,953.7M642.2,968 642.4,947.9M666.8,962 667,942.2M691,955.6 691.2,937.2 691.4,922.8M715,949.7 715.2,931.9 715.4,917.4M738,944 738.2,926.5 738.4,911.7M762,938.1 762.2,921 762.4,906.2M785,932.4 785.1,915.8 785.3,901.1M807,926.7 807.2,910.5 807.4,895.6M829.7,920.7 829.9,905.3 830.1,891.2M851.7,914.1 851.9,899.8 852.1,886.5M873.7,908.7 873.9,894.8 874.1,881.8M895,903.4 895.1,889.7 895.3,877M916.2,898.1 916.4,884.7 916.6,872.3M937.2,892.1 937.4,879.4 937.6,867.5M958,886.1 958.1,874 958.3,862.7 958.5,852.3M978,880.1 978.1,868.6 978.3,857.8 978.5,847.7M998.2,874 998.4,863.2 998.6,853 998.7,843.4M1018,869.1 1018.1,858.6 1018.3,848.7 1018.5,839.3M1038,862 1038.1,851.5 1038.3,841.6 1038.5,832.3M1057.2,856 1057.4,845.3 1057.5,835.3 1057.7,825.8M1076.7,849.9 1076.9,838.8 1077,828.5 1077.2,818.8M1095.2,843.9 1095.4,832.8 1095.5,822.3 1095.7,812.4M1114.3,838.1 1114.5,826.7 1114.6,816.1 1114.8,806.2M1133,830.7 1133.1,819.9 1133.3,809.8 1133.4,800.1M1150.6,824.1 1150.7,813.5 1150.9,803.5 1151,793.7M1169,818.9 1169.1,807.3 1169.3,796.6 1169.4,786.2M1187.1,812.4 1187.2,800.2 1187.4,788.9M1205,806.1 1205.1,794.7 1205.2,784 1205.4,773.5M1222.2,800.1 1222.3,789.2 1222.4,778.9 1222.5,768.7M1239.3,793.8 1239.4,783.6 1239.5,773.9 1239.6,764M1257.1,786.7 1257.2,777.4 1257.3,768.6 1257.4,759.4M1274.1,780.4 1274.2,771.6 1274.3,763.2 1274.4,754.5M1290.3,773.6 1290.4,765.3 1290.5,757.4 1290.5,749.4M1307,766.2 1307.1,758.7 1307.2,751.6 1307.2,744.6 1307.3,734.6M1324,759.7 1324.1,753 1324.1,746.6 1324.2,740.4 1324.3,731M1340.1,752.9 1340.2,747 1340.2,741.4 1340.3,735.9 1340.3,727.6M1356,746 1356.1,740.1 1356.1,734.3 1356.2,728.8 1356.2,720.4M1372.2,738.3 1372.3,732.5 1372.3,726.9 1372.4,721.5 1372.4,713.2 1372.5,705.3M1388,731.5 1388.1,725.6 1388.1,719.8 1388.2,714.1 1388.3,706.3 1388.3,698.9M1404.2,723.7 1404.3,718.1 1404.3,712.7 1404.4,706.9 1404.4,699.6 1404.5,692.7M1418.9,716.9 1419,711 1419,705.3 1419.1,699.2 1419.2,692.3 1419.2,685.7M1435.1,709.1 1435.2,703.7 1435.2,698.6 1435.3,692.7 1435.4,686.2 1435.4,679.9M1450.1,701.6 1450.2,696 1450.2,690.7 1450.3,684.7 1450.4,678.5 1450.4,672.6M1465.1,693.7 1465.2,688.3 1465.2,683.1 1465.3,677.2 1465.4,671.3 1465.4,665.6 1465.5,660.1M1480.1,686.3 1480.2,681 1480.2,675.8 1480.3,670 1480.4,664.1 1480.4,658.4 1480.5,652.9M1495.1,678.3 1495.2,673.1 1495.2,668.1 1495.3,662.3 1495.4,656.3 1495.4,650.6 1495.5,645.1M1510.2,670.4 1510.3,665.4 1510.3,660.5 1510.4,654.8 1510.5,648.8 1510.5,643.1 1510.6,637.6M1525.2,661.4 1525.3,657 1525.3,652.6 1525.4,647 1525.5,641.1 1525.5,635.4 1525.6,629.9M1540.2,652.8 1540.3,648.9 1540.3,645 1540.4,639.5 1540.4,633.6 1540.5,627.9 1540.6,622.4M1554.4,643.7 1554.5,640.1 1554.5,636.6 1554.6,631.3 1554.7,625.3 1554.7,619.6 1554.8,614.2M462.9,961.1 463.4,983.1 463.7,1011.1M489.1,955 489.7,977 489.9,1005M515.1,949 515.7,971 516,999M540.9,942.4 541.5,964.4 541.7,992.4M566.4,935.8 567,957.8 567.2,985.8M591.6,930.5 592.2,952.5 592.5,980.5M617.1,924.4 617.7,946.4 618,974.4M641.4,918 642,940 642.2,968M666,912 666.6,934 666.8,962M690.1,905.6 690.7,927.6 691,955.6M714.1,899.7 714.7,921.7 715,949.7M737.1,894 737.7,916 738,944M761.1,888.1 761.7,910.1 762,938.1M784.1,882.4 784.7,904.4 785,932.4M806.1,876.7 806.7,898.7 807,926.7M828.9,870.7 829.5,892.7 829.7,920.7M850.9,864.1 851.5,886.1 851.7,914.1M872.9,858.7 873.5,880.7 873.7,908.7M894.1,853.4 894.7,875.4 895,903.4M915.4,848.1 916,870.1 916.2,898.1M936.4,842.1 937,864.1 937.2,892.1M957.1,836.1 957.7,858.1 958,886.1M977.1,830.1 977.7,852.1 978,880.1M997.4,824 998,846 998.2,874M1017.1,819.1 1017.7,841.1 1018,869.1M1037.2,812 1037.7,834 1038,862M1056.4,806 1057,828 1057.2,856M1075.9,799.9 1076.5,821.9 1076.7,849.9M1094.4,793.9 1095,815.9 1095.2,843.9M1113.5,788.1 1114,810.1 1114.3,838.1M1132.2,780.7 1132.8,802.7 1133,830.7M1149.8,774.1 1150.4,796.1 1150.6,824.1M1168.2,768.9 1168.8,790.9 1169,818.9M1186.3,762.4 1186.9,784.4 1187.1,812.4M1204.2,756.1 1204.8,778.1 1205,806.1M1221.4,750.1 1222,772.1 1222.2,800.1M1238.5,743.8 1239,765.8 1239.3,793.8M1256.3,736.7 1256.9,758.7 1257.1,786.7M1273.3,730.4 1273.9,752.4 1274.1,780.4M1289.5,723.6 1290,745.6 1290.3,773.6M1306.2,716.2 1306.8,738.2 1307,766.2M1323.2,709.7 1323.8,731.7 1324,759.7M1339.3,702.9 1339.9,724.9 1340.1,752.9M1355.2,696 1355.8,718 1356,746M1371.4,688.3 1372,710.3 1372.2,738.3M1387.2,681.5 1387.8,703.5 1388,731.5M1403.4,673.7 1404,695.7 1404.2,723.7M1418.1,666.9 1418.7,688.9 1418.9,716.9M1434.3,659.1 1434.9,681.1 1435.1,709.1M1449.3,651.6 1449.9,673.6 1450.1,701.6M1464.3,643.7 1464.9,665.7 1465.1,693.7M1479.3,636.3 1479.9,658.3 1480.1,686.3M1494.3,628.3 1494.9,650.3 1495.1,678.3M1509.4,620.4 1510,642.4 1510.2,670.4M1524.4,611.4 1525,633.4 1525.2,661.4M1539.4,602.8 1540,624.8 1540.2,652.8M1553.6,593.7 1554.2,615.7 1554.4,643.7"/>
<path stroke-width="4.8" stroke-dasharray="0 2.6" d="M463.7,1011.1 463.9,993.2 464.2,980.9M489.9,1005 490.2,985.4 490.4,973.2M516,999 516.2,978.3 516.4,966.1M541.7,992.4 541.9,970.6 542.1,958.5M567.2,985.8 567.4,965.2 567.6,952.7M592.5,980.5 592.7,959.4M618,974.4 618.2,953.7M642.2,968 642.4,947.9M666.8,962 667,942.2M691,955.6 691.2,937.2 691.4,922.8M715,949.7 715.2,931.9 715.4,917.4M738,944 738.2,926.5 738.4,911.7M762,938.1 762.2,921 762.4,906.2M785,932.4 785.1,915.8 785.3,901.1M807,926.7 807.2,910.5 807.4,895.6M829.7,920.7 829.9,905.3 830.1,891.2M851.7,914.1 851.9,899.8 852.1,886.5M873.7,908.7 873.9,894.8 874.1,881.8M895,903.4 895.1,889.7 895.3,877M916.2,898.1 916.4,884.7 916.6,872.3M937.2,892.1 937.4,879.4 937.6,867.5M958,886.1 958.1,874 958.3,862.7 958.5,852.3M978,880.1 978.1,868.6 978.3,857.8 978.5,847.7M998.2,874 998.4,863.2 998.6,853 998.7,843.4M1018,869.1 1018.1,858.6 1018.3,848.7 1018.5,839.3M1038,862 1038.1,851.5 1038.3,841.6 1038.5,832.3M1057.2,856 1057.4,845.3 1057.5,835.3 1057.7,825.8M1076.7,849.9 1076.9,838.8 1077,828.5 1077.2,818.8M1095.2,843.9 1095.4,832.8 1095.5,822.3 1095.7,812.4M1114.3,838.1 1114.5,826.7 1114.6,816.1 1114.8,806.2M1133,830.7 1133.1,819.9 1133.3,809.8 1133.4,800.1M1150.6,824.1 1150.7,813.5 1150.9,803.5 1151,793.7M1169,818.9 1169.1,807.3 1169.3,796.6 1169.4,786.2M1187.1,812.4 1187.2,800.2 1187.4,788.9M1205,806.1 1205.1,794.7 1205.2,784 1205.4,773.5M1222.2,800.1 1222.3,789.2 1222.4,778.9 1222.5,768.7M1239.3,793.8 1239.4,783.6 1239.5,773.9 1239.6,764M1257.1,786.7 1257.2,777.4 1257.3,768.6 1257.4,759.4M1274.1,780.4 1274.2,771.6 1274.3,763.2 1274.4,754.5M1290.3,773.6 1290.4,765.3 1290.5,757.4 1290.5,749.4M1307,766.2 1307.1,758.7 1307.2,751.6 1307.2,744.6 1307.3,734.6M1324,759.7 1324.1,753 1324.1,746.6 1324.2,740.4 1324.3,731M1340.1,752.9 1340.2,747 1340.2,741.4 1340.3,735.9 1340.3,727.6M1356,746 1356.1,740.1 1356.1,734.3 1356.2,728.8 1356.2,720.4M1372.2,738.3 1372.3,732.5 1372.3,726.9 1372.4,721.5 1372.4,713.2 1372.5,705.3M1388,731.5 1388.1,725.6 1388.1,719.8 1388.2,714.1 1388.3,706.3 1388.3,698.9M1404.2,723.7 1404.3,718.1 1404.3,712.7 1404.4,706.9 1404.4,699.6 1404.5,692.7M1418.9,716.9 1419,711 1419,705.3 1419.1,699.2 1419.2,692.3 1419.2,685.7M1435.1,709.1 1435.2,703.7 1435.2,698.6 1435.3,692.7 1435.4,686.2 1435.4,679.9M1450.1,701.6 1450.2,696 1450.2,690.7 1450.3,684.7 1450.4,678.5 1450.4,672.6M1465.1,693.7 1465.2,688.3 1465.2,683.1 1465.3,677.2 1465.4,671.3 1465.4,665.6 1465.5,660.1M1480.1,686.3 1480.2,681 1480.2,675.8 1480.3,670 1480.4,664.1 1480.4,658.4 1480.5,652.9M1495.1,678.3 1495.2,673.1 1495.2,668.1 1495.3,662.3 1495.4,656.3 1495.4,650.6 1495.5,645.1M1510.2,670.4 1510.3,665.4 1510.3,660.5 1510.4,654.8 1510.5,648.8 1510.5,643.1 1510.6,637.6M1525.2,661.4 1525.3,657 1525.3,652.6 1525.4,647 1525.5,641.1 1525.5,635.4 1525.6,629.9M1540.2,652.8 1540.3,648.9 1540.3,645 1540.4,639.5 1540.4,633.6 1540.5,627.9 1540.6,622.4M1554.4,643.7 1554.5,640.1 1554.5,636.6 1554.6,631.3 1554.7,625.3 1554.7,619.6 1554.8,614.2M462.9,961.1 463.4,983.1 463.7,1011.1M489.1,955 489.7,977 489.9,1005M515.1,949 515.7,971 516,999M540.9,942.4 541.5,964.4 541.7,992.4M566.4,935.8 567,957.8 567.2,985.8M591.6,930.5 592.2,952.5 592.5,980.5M617.1,924.4 617.7,946.4 618,974.4M641.4,918 642,940 642.2,968M666,912 666.6,934 666.8,962M690.1,905.6 690.7,927.6 691,955.6M714.1,899.7 714.7,921.7 715,949.7M737.1,894 737.7,916 738,944M761.1,888.1 761.7,910.1 762,938.1M784.1,882.4 784.7,904.4 785,932.4M806.1,876.7 806.7,898.7 807,926.7M828.9,870.7 829.5,892.7 829.7,920.7M850.9,864.1 851.5,886.1 851.7,914.1M872.9,858.7 873.5,880.7 873.7,908.7M894.1,853.4 894.7,875.4 895,903.4M915.4,848.1 916,870.1 916.2,898.1M936.4,842.1 937,864.1 937.2,892.1M957.1,836.1 957.7,858.1 958,886.1M977.1,830.1 977.7,852.1 978,880.1M997.4,824 998,846 998.2,874M1017.1,819.1 1017.7,841.1 1018,869.1M1037.2,812 1037.7,834 1038,862M1056.4,806 1057,828 1057.2,856M1075.9,799.9 1076.5,821.9 1076.7,849.9M1094.4,793.9 1095,815.9 1095.2,843.9M1113.5,788.1 1114,810.1 1114.3,838.1M1132.2,780.7 1132.8,802.7 1133,830.7M1149.8,774.1 1150.4,796.1 1150.6,824.1M1168.2,768.9 1168.8,790.9 1169,818.9M1186.3,762.4 1186.9,784.4 1187.1,812.4M1204.2,756.1 1204.8,778.1 1205,806.1M1221.4,750.1 1222,772.1 1222.2,800.1M1238.5,743.8 1239,765.8 1239.3,793.8M1256.3,736.7 1256.9,758.7 1257.1,786.7M1273.3,730.4 1273.9,752.4 1274.1,780.4M1289.5,723.6 1290,745.6 1290.3,773.6M1306.2,716.2 1306.8,738.2 1307,766.2M1323.2,709.7 1323.8,731.7 1324,759.7M1339.3,702.9 1339.9,724.9 1340.1,752.9M1355.2,696 1355.8,718 1356,746M1371.4,688.3 1372,710.3 1372.2,738.3M1387.2,681.5 1387.8,703.5 1388,731.5M1403.4,673.7 1404,695.7 1404.2,723.7M1418.1,666.9 1418.7,688.9 1418.9,716.9M1434.3,659.1 1434.9,681.1 1435.1,709.1M1449.3,651.6 1449.9,673.6 1450.1,701.6M1464.3,643.7 1464.9,665.7 1465.1,693.7M1479.3,636.3 1479.9,658.3 1480.1,686.3M1494.3,628.3 1494.9,650.3 1495.1,678.3M1509.4,620.4 1510,642.4 1510.2,670.4M1524.4,611.4 1525,633.4 1525.2,661.4M1539.4,602.8 1540,624.8 1540.2,652.8M1553.6,593.7 1554.2,615.7 1554.4,643.7"/>
<path stroke-width="2.08" d="M288,962 288.4,962 289.7,1055.7M311,925 311.3,947 311.7,947 313,1051M334.4,913.4 334.7,931 335.1,931 336.4,1044.6M359,900.6 359.3,914 359.7,914 361,1038M384.6,888.3 384.9,896 385.2,896 386.6,1030.7M409.9,877.6 410.2,877 410.6,877 411.9,1024M435.9,867.6 436.4,863 436.8,863 437.4,866.1 438.3,1017.5M461.3,858.8 461.8,837 462.2,837 462.8,857.3 462.9,961.1 463.4,983.1 463.7,1011.1M487.6,848.8 488.1,817.5 488.4,817.5 489,847.3 489.1,955 489.7,977 489.9,1005M513.6,839.8 514.1,798 514.4,798 515,838.3 515.1,949 515.7,971 516,999M539.3,831.4 539.8,780 540.2,780 540.8,829.9 540.9,942.4 541.5,964.4 541.7,992.4M564.8,822.5 565.3,761.8 565.7,761.8 566.2,821 566.4,935.8 567,957.8 567.2,985.8M590.1,815.4 590.6,746 590.9,746 591.5,813.9 591.6,930.5 592.2,952.5 592.5,980.5M615.6,807.8 616.1,731.2 616.4,731.2 617,806.3 617.1,924.4 617.7,946.4 618,974.4M639.8,800.4 640.3,718 640.7,718 641.2,798.9 641.4,918 642,940 642.2,968M664.4,793 664.9,704 665.3,704 665.9,791.5 666,912 666.6,934 666.8,962M688.6,785.6 689.1,692.5 689.4,692.5 690,784.1 690.1,905.6 690.7,927.6 691,955.6M712.6,779.6 713.1,677 713.4,677 714,778.1 714.1,899.7 714.7,921.7 715,949.7M735.6,773.1 736,666.2 736.5,666.2 737,771.6 737.1,894 737.7,916 738,944M759.5,766.3 760,655 760.5,655 761,764.8 761.1,888.1 761.7,910.1 762,938.1M782.5,759.8 783,646.2 783.5,646.2 784,758.3 784.1,882.4 784.7,904.4 785,932.4M804.5,753.6 805,633.2 805.5,633.2 806,752.1 806.1,876.7 806.7,898.7 807,926.7M827.3,747.1 827.8,623.8 828.2,623.8 828.8,745.6 828.9,870.7 829.5,892.7 829.7,920.7M849.3,740.9 849.8,613 850.2,613 850.8,739.4 850.9,864.1 851.5,886.1 851.7,914.1M871.3,734.7 871.8,603.2 872.2,603.2 872.8,733.2 872.9,858.7 873.5,880.7 873.7,908.7M892.5,728.4 893,592 893.5,592 894,726.9 894.1,853.4 894.7,875.4 895,903.4M913.8,722.1 914.3,583 914.7,583 915.2,720.6 915.4,848.1 916,870.1 916.2,898.1M934.8,716 935.3,572 935.7,572 936.2,714.5 936.4,842.1 937,864.1 937.2,892.1M955.5,710.2 956,564.2 956.5,564.2 957,708.7 957.1,836.1 957.7,858.1 958,886.1M975.5,704.4 976,555.5 976.5,555.5 977,702.9 977.1,830.1 977.7,852.1 978,880.1M995.7,698.6 996.3,544.2 996.7,544.2 997.2,697.1 997.4,824 998,846 998.2,874M1015.5,693.2 1016,537 1016.5,537 1017,691.7 1017.1,819.1 1017.7,841.1 1018,869.1M1035.5,687.9 1036,527.5 1036.5,527.5 1037,686.4 1037.2,812 1037.7,834 1038,862M1054.7,681.8 1055.3,520 1055.7,520 1056.2,680.3 1056.4,806 1057,828 1057.2,856M1074.2,676.2 1074.8,510.8 1075.2,510.8 1075.8,674.7 1075.9,799.9 1076.5,821.9 1076.7,849.9M1092.7,670.1 1093.3,500.2 1093.7,500.2 1094.2,668.6 1094.4,793.9 1095,815.9 1095.2,843.9M1111.8,664.7 1112.4,491.2 1112.8,491.2 1113.3,663.2 1113.5,788.1 1114,810.1 1114.3,838.1M1130.5,659.6 1131.1,481.9 1131.5,481.9 1132,658.1 1132.2,780.7 1132.8,802.7 1133,830.7M1148.1,654.7 1148.7,472 1149.1,472 1149.7,653.2 1149.8,774.1 1150.4,796.1 1150.6,824.1M1166.5,649.7 1167.1,464 1167.5,464 1168,648.2 1168.2,768.9 1168.8,790.9 1169,818.9M1184.6,643.6 1185.2,455 1185.7,455 1186.2,642.1 1186.3,762.4 1186.9,784.4 1187.1,812.4M1202.5,637.3 1203,445 1203.6,445 1204,635.8 1204.2,756.1 1204.8,778.1 1205,806.1M1219.7,631.8 1220.2,436 1220.8,436 1221.2,630.3 1221.4,750.1 1222,772.1 1222.2,800.1M1236.8,626.2 1237.3,428 1237.9,428 1238.3,624.7 1238.5,743.8 1239,765.8 1239.3,793.8M1254.6,620.7 1255.1,417.3 1255.7,417.3 1256.2,619.2 1256.3,736.7 1256.9,758.7 1257.1,786.7M1271.6,615.1 1272.1,408.2 1272.7,408.2 1273.2,613.6 1273.3,730.4 1273.9,752.4 1274.1,780.4M1287.8,609.2 1288.3,399.1 1288.9,399.1 1289.3,607.7 1289.5,723.6 1290,745.6 1290.3,773.6M1304.5,602.8 1305,389.2 1305.6,389.2 1306,601.3 1306.2,716.2 1306.8,738.2 1307,766.2M1321.5,596.5 1322,379 1322.6,379 1323,595 1323.2,709.7 1323.8,731.7 1324,759.7M1337.6,591.2 1338.1,367.1 1338.7,367.1 1339.2,589.7 1339.3,702.9 1339.9,724.9 1340.1,752.9M1353.5,585.6 1354,359.2 1354.6,359.2 1355,584.1 1355.2,696 1355.8,718 1356,746M1369.7,579.3 1370.2,347.8 1370.8,347.8 1371.2,577.8 1371.4,688.3 1372,710.3 1372.2,738.3M1385.4,572.7 1386,338.8 1386.6,338.8 1387,571.2 1387.2,681.5 1387.8,703.5 1388,731.5M1401.6,566.3 1402.2,328.9 1402.8,328.9 1403.2,564.8 1403.4,673.7 1404,695.7 1404.2,723.7M1416.3,560.1 1416.9,316.1 1417.5,316.1 1418,558.6 1418.1,666.9 1418.7,688.9 1418.9,716.9M1432.5,553.2 1433.1,306.8 1433.7,306.8 1434.2,551.7 1434.3,659.1 1434.9,681.1 1435.1,709.1M1447.5,547.4 1448.1,296.3 1448.7,296.3 1449.2,545.9 1449.3,651.6 1449.9,673.6 1450.1,701.6M1462.5,540 1463.1,285.5 1463.7,285.5 1464.2,538.5 1464.3,643.7 1464.9,665.7 1465.1,693.7M1477.5,533 1478.1,270.8 1478.7,270.8 1479.2,531.5 1479.3,636.3 1479.9,658.3 1480.1,686.3M1492.5,525.8 1493.1,260.8 1493.7,260.8 1494.2,524.3 1494.3,628.3 1494.9,650.3 1495.1,678.3M1507.6,518.1 1508.2,247.5 1508.8,247.5 1509.2,516.6 1509.4,620.4 1510,642.4 1510.2,670.4M1522.6,510.6 1523.2,233.4 1523.8,233.4 1524.2,509.1 1524.4,611.4 1525,633.4 1525.2,661.4M1537.6,502.9 1538.2,223.4 1538.8,223.4 1539.2,501.4 1539.4,602.8 1540,624.8 1540.2,652.8M1551.8,495.4 1552.4,206.2 1553,206.2 1553.5,493.9 1553.6,593.7 1554.2,615.7 1554.4,643.7"/>
<path stroke-width="4.4" d="M462.8,857.3 462.9,961.1M489,847.3 489.1,955M515,838.3 515.1,949M540.8,829.9 540.9,942.4M566.2,821 566.4,935.8M591.5,813.9 591.6,930.5M617,806.3 617.1,924.4M641.2,798.9 641.4,918M665.9,791.5 666,912M690,784.1 690.1,905.6M714,778.1 714.1,899.7M737,771.6 737.1,894M761,764.8 761.1,888.1M784,758.3 784.1,882.4M806,752.1 806.1,876.7M828.8,745.6 828.9,870.7M850.8,739.4 850.9,864.1M872.8,733.2 872.9,858.7M894,726.9 894.1,853.4M915.2,720.6 915.4,848.1M936.2,714.5 936.4,842.1M957,708.7 957.1,836.1M977,702.9 977.1,830.1"/>
<path stroke-width="5.2" d="M997.2,697.1 997.4,824M1017,691.7 1017.1,819.1M1037,686.4 1037.2,812M1056.2,680.3 1056.4,806M1075.8,674.7 1075.9,799.9M1094.2,668.6 1094.4,793.9M1113.3,663.2 1113.5,788.1M1132,658.1 1132.2,780.7M1149.7,653.2 1149.8,774.1M1168,648.2 1168.2,768.9M1186.2,642.1 1186.3,762.4M1204,635.8 1204.2,756.1M1221.2,630.3 1221.4,750.1M1238.3,624.7 1238.5,743.8M1256.2,619.2 1256.3,736.7M1273.2,613.6 1273.3,730.4M1289.3,607.7 1289.5,723.6M1306,601.3 1306.2,716.2M1323,595 1323.2,709.7M1339.2,589.7 1339.3,702.9M1355,584.1 1355.2,696M1371.2,577.8 1371.4,688.3M1387,571.2 1387.2,681.5M1403.2,564.8 1403.4,673.7M1418,558.6 1418.1,666.9M1434.2,551.7 1434.3,659.1M1449.2,545.9 1449.3,651.6M1464.2,538.5 1464.3,643.7M1479.2,531.5 1479.3,636.3M1494.2,524.3 1494.3,628.3M1509.2,516.6 1509.4,620.4M1524.2,509.1 1524.4,611.4M1539.2,501.4 1539.4,602.8M1553.5,493.9 1553.6,593.7"/>
<path stroke-width="4.3" stroke-dasharray="0 4.3 0 3.9 0 5.1 0 3.7 0 4.8 0 4.4 0 3.6 0 4.8 0 3.6 0 4.6 0 3.7 0 3.7 0 4.6 0 5.6 0 3.8 0 4.1 0 5.1 0 5.9 0 4.9 0 4.5 0 5.9" d="M288,962 288.4,962 289.7,1055.7"/>
<path stroke-width="4.3" stroke-dasharray="0 12.8 0 9.2" d="M311,925 311.3,947"/>
<path stroke-width="4.3" stroke-dasharray="0 4.2 0 3.9 0 3.8 0 4.3 0 5.5 0 4.0 0 5.0 0 5.1 0 4.4 0 4.9 0 3.7 0 3.6 0 4.0 0 5.2 0 4.6 0 4.3 0 5.0 0 4.6 0 4.2 0 5.5 0 5.2 0 4.1 0 4.9 0 4.8" d="M311.3,947 311.7,947 313,1051"/>
<path stroke-width="4.3" stroke-dasharray="0 17.6" d="M334.4,913.4 334.7,931"/>
<path stroke-width="4.3" stroke-dasharray="0 5.3 0 4.2 0 6.0 0 3.8 0 4.5 0 5.4 0 3.9 0 4.7 0 3.6 0 5.2 0 5.4 0 4.9 0 5.7 0 4.3 0 5.2 0 5.0 0 4.9 0 4.6 0 5.6 0 5.9 0 4.7 0 5.2 0 3.7 0 5.3" d="M334.7,931 335.1,931 336.4,1044.6"/>
<path stroke-width="4.3" stroke-dasharray="0 13.4" d="M359,900.6 359.3,914"/>
<path stroke-width="4.3" stroke-dasharray="0 6.0 0 5.6 0 4.2 0 4.5 0 5.2 0 3.6 0 4.7 0 3.9 0 3.8 0 3.6 0 5.4 0 3.8 0 4.1 0 4.5 0 5.7 0 3.7 0 4.6 0 4.9 0 5.7 0 5.5 0 5.7 0 4.2 0 4.5 0 4.4 0 5.7 0 5.9 0 3.9" d="M359.3,914 359.7,914 361,1038"/>
<path stroke-width="4.3" stroke-dasharray="0 7.7" d="M384.6,888.3 384.9,896"/>
<path stroke-width="4.3" stroke-dasharray="0 4.1 0 4.1 0 4.7 0 5.0 0 4.2 0 3.5 0 4.5 0 4.4 0 4.9 0 5.9 0 5.2 0 4.8 0 5.0 0 5.2 0 3.6 0 5.7 0 5.4 0 5.7 0 5.5 0 4.5 0 4.5 0 3.8 0 5.1 0 3.7 0 3.7 0 4.0 0 3.9 0 4.4 0 3.6 0 3.5" d="M384.9,896 385.2,896 386.6,1030.7"/>
<path stroke-width="4.3" stroke-dasharray="0 0.7" d="M409.9,877.6 410.2,877"/>
<path stroke-width="4.3" stroke-dasharray="0 3.8 0 4.4 0 3.6 0 5.7 0 5.0 0 3.9 0 4.1 0 4.4 0 4.4 0 3.8 0 5.6 0 6.0 0 4.7 0 4.7 0 3.7 0 3.8 0 4.4 0 4.2 0 5.6 0 3.9 0 3.6 0 5.9 0 4.8 0 3.9 0 4.9 0 3.6 0 4.8 0 5.9 0 5.7 0 5.2 0 4.2 0 4.4 0 3.9" d="M410.2,877 410.6,877 411.9,1024"/>
<path stroke-width="4.3" stroke-dasharray="0 4.7 0 8.6" d="M435.9,867.6 436.4,863 436.8,863 437.4,866.1"/>
<path stroke-width="4.3" stroke-dasharray="0 4.9 0 4.8 0 5.1 0 5.0 0 5.5 0 5.4 0 4.0 0 4.1 0 4.5 0 5.5 0 4.0 0 4.7 0 5.3 0 6.0 0 5.5 0 4.7 0 4.0 0 5.0 0 4.4 0 5.5 0 5.3 0 4.4 0 5.9 0 3.7 0 3.8 0 4.7 0 4.3 0 4.7 0 6.0 0 5.0 0 3.5 0 5.8" d="M437.4,866.1 438.3,1017.5"/>
<path stroke-width="4.3" stroke-dasharray="0 18.2 0 3.7 0 8.6 0 7.0 0 18.0" d="M461.3,858.8 461.8,837 462.2,837 462.8,857.3"/>
<path stroke-width="4.3" stroke-dasharray="0 26.1 0 5.2 0 5.6 0 9.0 0 18.0" d="M487.6,848.8 488.1,817.5 488.4,817.5 489,847.3"/>
<path stroke-width="4.3" stroke-dasharray="0 26.2 0 15.6 0 8.6 0 18.0 0 22.0" d="M513.6,839.8 514.1,798 514.4,798 515,838.3"/>
<path stroke-width="4.3" stroke-dasharray="0 19.2 0 29.0 0 3.1 0 3.6 0 9.0 0 5.0 0 9.0 0 22.0 0 9.0" d="M539.3,831.4 539.8,780 540.2,780 540.8,829.9"/>
<path stroke-width="4.3" stroke-dasharray="0 23.0 0 22.7 0 15.1 0 5.6 0 9.0 0 9.0 0 5.0 0 5.0 0 7.0 0 9.0 0 18.0" d="M564.8,822.5 565.3,761.8 565.7,761.8 566.2,821"/>
<path stroke-width="4.3" stroke-dasharray="0 29.8 0 15.5 0 24.2 0 3.6 0 13.0 0 11.0 0 13.0 0 11.0 0 15.0 0 13.0" d="M590.1,815.4 590.6,746 590.9,746 591.5,813.9"/>
<path stroke-width="4.3" stroke-dasharray="0 21.8 0 27.0 0 13.1 0 14.6 0 5.6 0 18.0 0 9.0 0 9.0 0 5.0 0 22.0 0 9.0" d="M615.6,807.8 616.1,731.2 616.4,731.2 617,806.3"/>
<path stroke-width="4.3" stroke-dasharray="0 23.0 0 26.0 0 14.7 0 14.5 0 4.2 0 3.6 0 5.0 0 15.0 0 22.0 0 7.0 0 5.0 0 11.0 0 11.0 0 13.0" d="M639.8,800.4 640.3,718 640.7,718 641.2,798.9"/>
<path stroke-width="4.3" stroke-dasharray="0 12.8 0 13.8 0 20.1 0 12.5 0 28.1 0 1.7 0 5.6 0 11.0 0 13.0 0 22.0 0 22.0 0 11.0 0 13.0" d="M664.4,793 664.9,704 665.3,704 665.9,791.5"/>
<path stroke-width="4.3" stroke-dasharray="0 28.6 0 28.1 0 15.6 0 20.1 0 0.8 0 5.6 0 22.0 0 15.0 0 7.0 0 11.0 0 18.0 0 7.0 0 11.0" d="M688.6,785.6 689.1,692.5 689.4,692.5 690,784.1"/>
<path stroke-width="4.3" stroke-dasharray="0 24.1 0 26.1 0 28.1 0 14.8 0 9.6 0 8.6 0 15.0 0 9.0 0 13.0 0 9.0 0 22.0 0 11.0 0 7.0 0 18.0" d="M712.6,779.6 713.1,677 713.4,677 714,778.1"/>
<path stroke-width="4.3" stroke-dasharray="0 27.9 0 14.9 0 24.0 0 16.0 0 24.0 0 8.6 0 18.0 0 15.0 0 18.0 0 11.0 0 15.0 0 15.0 0 7.0" d="M735.6,773.1 736,666.2 736.5,666.2 737,771.6"/>
<path stroke-width="4.3" stroke-dasharray="0 25.0 0 12.4 0 22.0 0 19.9 0 12.3 0 18.0 0 1.8 0 8.6 0 7.0 0 7.0 0 11.0 0 7.0 0 7.0 0 13.0 0 13.0 0 5.0 0 9.0 0 13.0 0 9.0 0 18.0" d="M759.5,766.3 760,655 760.5,655 761,764.8"/>
<path stroke-width="4.3" stroke-dasharray="0 27.3 0 24.2 0 29.0 0 19.3 0 13.8 0 8.6 0 22.0 0 15.0 0 7.0 0 13.0 0 5.0 0 9.0 0 18.0 0 7.0 0 13.0" d="M782.5,759.8 783,646.2 783.5,646.2 784,758.3"/>
<path stroke-width="4.3" stroke-dasharray="0 28.9 0 23.4 0 26.4 0 13.5 0 27.4 0 0.7 0 3.6 0 22.0 0 5.0 0 15.0 0 18.0 0 13.0 0 9.0 0 5.0 0 11.0 0 7.0 0 9.0 0 13.0" d="M804.5,753.6 805,633.2 805.5,633.2 806,752.1"/>
<path stroke-width="4.3" stroke-dasharray="0 12.9 0 15.6 0 17.6 0 17.5 0 25.7 0 17.2 0 16.9 0 3.6 0 13.0 0 15.0 0 5.0 0 13.0 0 5.0 0 5.0 0 5.0 0 11.0 0 22.0 0 11.0 0 22.0" d="M827.3,747.1 827.8,623.8 828.2,623.8 828.8,745.6"/>
<path stroke-width="4.3" stroke-dasharray="0 13.9 0 26.7 0 19.8 0 20.9 0 27.0 0 19.1 0 0.5 0 8.6 0 11.0 0 11.0 0 15.0 0 11.0 0 9.0 0 18.0 0 15.0 0 5.0 0 9.0 0 5.0 0 7.0 0 13.0" d="M849.3,740.9 849.8,613 850.2,613 850.8,739.4"/>
<path stroke-width="4.3" stroke-dasharray="0 19.8 0 13.0 0 24.0 0 18.9 0 21.1 0 29.5 0 5.3 0 8.6 0 13.0 0 5.0 0 22.0 0 9.0 0 9.0 0 13.0 0 22.0 0 5.0 0 13.0 0 15.0" d="M871.3,734.7 871.8,603.2 872.2,603.2 872.8,733.2"/>
<path stroke-width="4.3" stroke-dasharray="0 29.3 0 29.5 0 21.8 0 16.4 0 29.4 0 10.0 0 5.6 0 9.0 0 5.0 0 15.0 0 18.0 0 7.0 0 22.0 0 13.0 0 11.0 0 11.0 0 5.0 0 7.0 0 13.0" d="M892.5,728.4 893,592 893.5,592 894,726.9"/>
<path stroke-width="4.3" stroke-dasharray="0 26.7 0 14.6 0 22.6 0 19.1 0 17.4 0 23.3 0 13.5 0 1.9 0 3.6 0 18.0 0 15.0 0 22.0 0 9.0 0 13.0 0 9.0 0 5.0 0 18.0 0 9.0 0 5.0 0 11.0 0 7.0" d="M913.8,722.1 914.3,583 914.7,583 915.2,720.6"/>
<path stroke-width="4.3" stroke-dasharray="0 12.6 0 14.4 0 18.5 0 13.9 0 27.0 0 22.1 0 23.3 0 12.3 0 8.6 0 11.0 0 22.0 0 13.0 0 5.0 0 22.0 0 7.0 0 7.0 0 7.0 0 22.0 0 13.0 0 7.0" d="M934.8,716 935.3,572 935.7,572 936.2,714.5"/>
<path stroke-width="4.3" stroke-dasharray="0 27.2 0 16.2 0 25.6 0 16.2 0 23.7 0 20.3 0 16.8 0 3.6 0 22.0 0 13.0 0 5.0 0 11.0 0 7.0 0 9.0 0 15.0 0 13.0 0 13.0 0 9.0 0 5.0 0 22.0" d="M955.5,710.2 956,564.2 956.5,564.2 957,708.7"/>
<path stroke-width="4.3" stroke-dasharray="0 13.1 0 16.8 0 24.1 0 24.5 0 24.2 0 17.2 0 21.3 0 7.8 0 5.6 0 7.0 0 11.0 0 13.0 0 7.0 0 22.0 0 5.0 0 13.0 0 22.0 0 7.0 0 22.0 0 13.0 0 18.0" d="M975.5,704.4 976,555.5 976.5,555.5 977,702.9"/>
<path stroke-width="4.3" stroke-dasharray="0 15.8 0 29.0 0 15.8 0 22.5 0 14.6 0 21.4 0 29.1 0 6.2 0 8.6 0 13.0 0 7.0 0 15.0 0 11.0 0 22.0 0 22.0 0 18.0 0 5.0 0 9.0 0 5.0 0 22.0" d="M995.7,698.6 996.3,544.2 996.7,544.2 997.2,697.1"/>
<path stroke-width="4.3" stroke-dasharray="0 24.3 0 19.3 0 25.1 0 19.5 0 18.8 0 14.2 0 18.0 0 17.1 0 5.6 0 18.0 0 7.0 0 11.0 0 5.0 0 13.0 0 13.0 0 15.0 0 7.0 0 18.0 0 18.0 0 7.0 0 15.0 0 18.0" d="M1015.5,693.2 1016,537 1016.5,537 1017,691.7"/>
<path stroke-width="4.3" stroke-dasharray="0 25.6 0 27.4 0 17.1 0 12.9 0 23.9 0 23.4 0 14.7 0 15.4 0 5.6 0 15.0 0 11.0 0 15.0 0 18.0 0 5.0 0 18.0 0 11.0 0 7.0 0 5.0 0 18.0 0 22.0 0 9.0" d="M1035.5,687.9 1036,527.5 1036.5,527.5 1037,686.4"/>
<path stroke-width="4.3" stroke-dasharray="0 23.6 0 17.2 0 12.9 0 28.7 0 14.3 0 20.5 0 18.2 0 17.4 0 9.2 0 8.6 0 13.0 0 18.0 0 11.0 0 13.0 0 22.0 0 18.0 0 7.0 0 9.0 0 9.0 0 7.0 0 11.0 0 22.0" d="M1054.7,681.8 1055.3,520 1055.7,520 1056.2,680.3"/>
<path stroke-width="4.3" stroke-dasharray="0 21.9 0 20.2 0 18.0 0 25.7 0 19.7 0 21.9 0 16.4 0 15.1 0 6.6 0 5.6 0 11.0 0 15.0 0 13.0 0 11.0 0 5.0 0 18.0 0 18.0 0 18.0 0 11.0 0 18.0 0 13.0 0 15.0" d="M1074.2,676.2 1074.8,510.8 1075.2,510.8 1075.8,674.7"/>
<path stroke-width="4.3" stroke-dasharray="0 25.5 0 21.0 0 22.3 0 18.5 0 24.4 0 21.5 0 26.2 0 10.4 0 3.6 0 13.0 0 11.0 0 18.0 0 18.0 0 22.0 0 18.0 0 13.0 0 5.0 0 9.0 0 5.0 0 18.0 0 22.0" d="M1092.7,670.1 1093.3,500.2 1093.7,500.2 1094.2,668.6"/>
<path stroke-width="4.3" stroke-dasharray="0 29.4 0 20.8 0 13.3 0 28.7 0 28.7 0 21.5 0 20.4 0 10.6 0 3.6 0 11.0 0 9.0 0 9.0 0 7.0 0 22.0 0 7.0 0 5.0 0 5.0 0 9.0 0 11.0 0 5.0 0 13.0 0 9.0 0 13.0 0 18.0 0 7.0 0 7.0 0 7.0" d="M1111.8,664.7 1112.4,491.2 1112.8,491.2 1113.3,663.2"/>
<path stroke-width="4.3" stroke-dasharray="0 17.4 0 29.0 0 15.5 0 16.7 0 26.2 0 12.0 0 21.7 0 29.9 0 9.3 0 5.6 0 11.0 0 22.0 0 11.0 0 11.0 0 5.0 0 18.0 0 13.0 0 5.0 0 5.0 0 11.0 0 22.0 0 18.0 0 7.0 0 13.0" d="M1130.5,659.6 1131.1,481.9 1131.5,481.9 1132,658.1"/>
<path stroke-width="4.3" stroke-dasharray="0 16.1 0 19.6 0 18.7 0 20.9 0 24.5 0 24.9 0 18.5 0 19.1 0 12.1 0 8.2 0 8.6 0 7.0 0 11.0 0 22.0 0 11.0 0 13.0 0 11.0 0 11.0 0 22.0 0 11.0 0 13.0 0 13.0 0 7.0 0 22.0" d="M1148.1,654.7 1148.7,472 1149.1,472 1149.7,653.2"/>
<path stroke-width="4.3" stroke-dasharray="0 23.0 0 28.1 0 20.7 0 28.4 0 13.0 0 22.7 0 28.6 0 13.0 0 8.1 0 8.6 0 9.0 0 18.0 0 5.0 0 5.0 0 9.0 0 18.0 0 22.0 0 15.0 0 7.0 0 7.0 0 9.0 0 15.0 0 11.0 0 9.0 0 22.0" d="M1166.5,649.7 1167.1,464 1167.5,464 1168,648.2"/>
<path stroke-width="4.3" stroke-dasharray="0 12.6 0 24.0 0 18.8 0 18.7 0 18.0 0 15.0 0 12.1 0 17.0 0 18.3 0 29.2 0 4.9 0 3.6 0 18.0 0 15.0 0 13.0 0 18.0 0 7.0 0 5.0 0 22.0 0 11.0 0 15.0 0 22.0 0 11.0 0 15.0 0 15.0" d="M1184.6,643.6 1185.2,455 1185.7,455 1186.2,642.1"/>
<path stroke-width="4.3" stroke-dasharray="0 25.3 0 20.5 0 23.4 0 16.5 0 23.3 0 19.3 0 18.8 0 20.4 0 25.0 0 3.6 0 13.0 0 11.0 0 7.0 0 15.0 0 15.0 0 13.0 0 15.0 0 5.0 0 13.0 0 15.0 0 13.0 0 13.0 0 5.0 0 7.0 0 5.0 0 11.0 0 7.0 0 22.0" d="M1202.5,637.3 1203,445 1203.6,445 1204,635.8"/>
<path stroke-width="4.3" stroke-dasharray="0 24.9 0 20.4 0 26.0 0 26.2 0 28.4 0 26.7 0 14.4 0 20.9 0 8.0 0 8.6 0 13.0 0 9.0 0 11.0 0 15.0 0 15.0 0 22.0 0 15.0 0 7.0 0 11.0 0 18.0 0 9.0 0 11.0 0 18.0 0 7.0 0 5.0 0 22.0" d="M1219.7,631.8 1220.2,436 1220.8,436 1221.2,630.3"/>
<path stroke-width="4.3" stroke-dasharray="0 21.9 0 17.9 0 29.6 0 27.9 0 29.8 0 16.8 0 13.5 0 13.7 0 21.0 0 6.1 0 5.6 0 9.0 0 11.0 0 9.0 0 18.0 0 22.0 0 11.0 0 7.0 0 13.0 0 13.0 0 13.0 0 13.0 0 15.0 0 13.0 0 13.0 0 11.0 0 22.0" d="M1236.8,626.2 1237.3,428 1237.9,428 1238.3,624.7"/>
<path stroke-width="4.3" stroke-dasharray="0 16.5 0 16.4 0 14.8 0 27.9 0 22.4 0 17.9 0 19.1 0 29.9 0 21.1 0 16.2 0 1.3 0 8.6 0 22.0 0 5.0 0 7.0 0 5.0 0 22.0 0 11.0 0 22.0 0 15.0 0 5.0 0 13.0 0 11.0 0 7.0 0 5.0 0 11.0 0 11.0 0 7.0 0 15.0" d="M1254.6,620.7 1255.1,417.3 1255.7,417.3 1256.2,619.2"/>
<path stroke-width="4.3" stroke-dasharray="0 21.2 0 15.2 0 22.9 0 25.9 0 24.0 0 12.1 0 23.5 0 24.8 0 18.3 0 12.7 0 6.4 0 3.6 0 11.0 0 13.0 0 5.0 0 11.0 0 5.0 0 15.0 0 18.0 0 15.0 0 9.0 0 13.0 0 7.0 0 11.0 0 5.0 0 22.0 0 22.0 0 7.0 0 18.0" d="M1271.6,615.1 1272.1,408.2 1272.7,408.2 1273.2,613.6"/>
<path stroke-width="4.3" stroke-dasharray="0 13.8 0 19.1 0 21.9 0 23.5 0 13.6 0 14.9 0 24.5 0 19.4 0 17.1 0 17.5 0 24.6 0 5.6 0 15.0 0 18.0 0 18.0 0 5.0 0 15.0 0 11.0 0 18.0 0 18.0 0 11.0 0 5.0 0 18.0 0 9.0 0 18.0 0 7.0 0 7.0 0 18.0" d="M1287.8,609.2 1288.3,399.1 1288.9,399.1 1289.3,607.7"/>
<path stroke-width="4.3" stroke-dasharray="0 22.4 0 18.6 0 25.9 0 14.3 0 12.9 0 14.6 0 26.5 0 19.1 0 22.3 0 28.7 0 8.2 0 3.6 0 9.0 0 15.0 0 13.0 0 9.0 0 9.0 0 7.0 0 7.0 0 18.0 0 22.0 0 11.0 0 13.0 0 9.0 0 5.0 0 22.0 0 15.0 0 5.0 0 18.0 0 7.0" d="M1304.5,602.8 1305,389.2 1305.6,389.2 1306,601.3"/>
<path stroke-width="4.3" stroke-dasharray="0 28.3 0 23.2 0 26.8 0 14.9 0 26.1 0 16.0 0 19.3 0 27.2 0 26.9 0 8.8 0 3.6 0 5.0 0 18.0 0 9.0 0 18.0 0 15.0 0 7.0 0 9.0 0 11.0 0 11.0 0 5.0 0 5.0 0 15.0 0 7.0 0 18.0 0 22.0 0 13.0 0 18.0 0 13.0" d="M1321.5,596.5 1322,379 1322.6,379 1323,595"/>
<path stroke-width="4.3" stroke-dasharray="0 22.5 0 19.7 0 23.9 0 20.0 0 19.9 0 12.4 0 23.1 0 20.8 0 16.2 0 25.7 0 19.8 0 5.6 0 9.0 0 22.0 0 18.0 0 7.0 0 7.0 0 9.0 0 15.0 0 18.0 0 15.0 0 7.0 0 22.0 0 5.0 0 5.0 0 9.0 0 7.0 0 15.0 0 7.0 0 5.0 0 18.0" d="M1337.6,591.2 1338.1,367.1 1338.7,367.1 1339.2,589.7"/>
<path stroke-width="4.3" stroke-dasharray="0 23.7 0 26.1 0 12.5 0 13.2 0 23.1 0 24.5 0 14.0 0 14.4 0 27.9 0 17.2 0 26.6 0 3.3 0 8.6 0 11.0 0 7.0 0 15.0 0 13.0 0 9.0 0 15.0 0 13.0 0 22.0 0 9.0 0 13.0 0 22.0 0 11.0 0 13.0 0 11.0 0 15.0 0 15.0 0 5.0" d="M1353.5,585.6 1354,359.2 1354.6,359.2 1355,584.1"/>
<path stroke-width="4.3" stroke-dasharray="0 15.6 0 19.3 0 23.5 0 17.0 0 17.9 0 18.8 0 26.3 0 16.8 0 25.8 0 12.9 0 27.4 0 10.3 0 5.6 0 7.0 0 13.0 0 18.0 0 15.0 0 13.0 0 18.0 0 15.0 0 9.0 0 15.0 0 15.0 0 7.0 0 22.0 0 11.0 0 9.0 0 5.0 0 13.0 0 13.0 0 13.0" d="M1369.7,579.3 1370.2,347.8 1370.8,347.8 1371.2,577.8"/>
<path stroke-width="4.3" stroke-dasharray="0 23.5 0 29.7 0 22.5 0 23.9 0 17.6 0 12.0 0 12.6 0 14.7 0 23.1 0 19.8 0 21.2 0 13.2 0 3.6 0 22.0 0 11.0 0 5.0 0 5.0 0 5.0 0 5.0 0 15.0 0 13.0 0 7.0 0 15.0 0 11.0 0 18.0 0 13.0 0 9.0 0 11.0 0 15.0 0 22.0 0 9.0 0 9.0 0 5.0 0 11.0" d="M1385.4,572.7 1386,338.8 1386.6,338.8 1387,571.2"/>
<path stroke-width="4.3" stroke-dasharray="0 24.7 0 20.1 0 13.1 0 14.6 0 24.0 0 16.9 0 26.6 0 29.4 0 13.0 0 26.8 0 28.1 0 0.1 0 8.6 0 22.0 0 22.0 0 11.0 0 9.0 0 5.0 0 5.0 0 5.0 0 5.0 0 18.0 0 9.0 0 11.0 0 9.0 0 5.0 0 7.0 0 5.0 0 11.0 0 9.0 0 18.0 0 11.0 0 18.0 0 9.0 0 13.0" d="M1401.6,566.3 1402.2,328.9 1402.8,328.9 1403.2,564.8"/>
<path stroke-width="4.3" stroke-dasharray="0 13.1 0 23.3 0 29.9 0 25.0 0 20.6 0 21.7 0 18.8 0 19.9 0 28.4 0 13.4 0 23.8 0 6.1 0 3.6 0 13.0 0 11.0 0 5.0 0 7.0 0 15.0 0 13.0 0 5.0 0 13.0 0 18.0 0 13.0 0 13.0 0 11.0 0 7.0 0 5.0 0 9.0 0 13.0 0 11.0 0 11.0 0 9.0 0 15.0 0 11.0 0 18.0" d="M1416.3,560.1 1416.9,316.1 1417.5,316.1 1418,558.6"/>
<path stroke-width="4.3" stroke-dasharray="0 17.9 0 16.3 0 28.3 0 23.4 0 24.5 0 24.0 0 29.6 0 20.5 0 27.1 0 24.6 0 10.3 0 5.6 0 11.0 0 13.0 0 11.0 0 18.0 0 7.0 0 9.0 0 9.0 0 5.0 0 5.0 0 7.0 0 7.0 0 9.0 0 15.0 0 9.0 0 5.0 0 5.0 0 5.0 0 9.0 0 5.0 0 7.0 0 5.0 0 7.0 0 15.0 0 11.0 0 7.0 0 18.0 0 7.0" d="M1432.5,553.2 1433.1,306.8 1433.7,306.8 1434.2,551.7"/>
<path stroke-width="4.3" stroke-dasharray="0 16.4 0 15.7 0 12.6 0 29.1 0 28.4 0 25.6 0 13.6 0 25.5 0 23.4 0 20.6 0 14.4 0 25.9 0 8.6 0 11.0 0 13.0 0 15.0 0 15.0 0 18.0 0 13.0 0 5.0 0 15.0 0 13.0 0 13.0 0 5.0 0 15.0 0 15.0 0 22.0 0 13.0 0 5.0 0 18.0 0 5.0 0 18.0" d="M1447.5,547.4 1448.1,296.3 1448.7,296.3 1449.2,545.9"/>
<path stroke-width="4.3" stroke-dasharray="0 21.3 0 13.8 0 20.4 0 12.9 0 22.2 0 24.9 0 26.9 0 22.3 0 17.2 0 19.8 0 21.4 0 17.2 0 14.2 0 3.6 0 5.0 0 15.0 0 22.0 0 7.0 0 22.0 0 9.0 0 22.0 0 15.0 0 13.0 0 9.0 0 13.0 0 11.0 0 11.0 0 22.0 0 9.0 0 7.0 0 7.0 0 22.0 0 7.0 0 15.0" d="M1462.5,540 1463.1,285.5 1463.7,285.5 1464.2,538.5"/>
<path stroke-width="4.3" stroke-dasharray="0 18.4 0 19.2 0 19.1 0 28.0 0 13.6 0 28.0 0 12.5 0 15.7 0 16.7 0 28.2 0 21.0 0 18.8 0 23.0 0 3.6 0 22.0 0 9.0 0 5.0 0 15.0 0 15.0 0 9.0 0 22.0 0 15.0 0 9.0 0 22.0 0 22.0 0 13.0 0 11.0 0 9.0 0 15.0 0 22.0 0 11.0 0 11.0 0 13.0" d="M1477.5,533 1478.1,270.8 1478.7,270.8 1479.2,531.5"/>
<path stroke-width="4.3" stroke-dasharray="0 17.4 0 24.7 0 27.2 0 14.8 0 14.8 0 16.5 0 17.9 0 21.4 0 14.9 0 17.9 0 15.4 0 29.6 0 25.1 0 7.6 0 8.6 0 7.0 0 11.0 0 18.0 0 9.0 0 9.0 0 13.0 0 13.0 0 18.0 0 13.0 0 11.0 0 7.0 0 7.0 0 13.0 0 11.0 0 18.0 0 22.0 0 5.0 0 5.0 0 18.0 0 18.0 0 11.0" d="M1492.5,525.8 1493.1,260.8 1493.7,260.8 1494.2,524.3"/>
<path stroke-width="4.3" stroke-dasharray="0 21.0 0 23.4 0 20.3 0 14.6 0 22.9 0 19.3 0 25.3 0 28.3 0 19.7 0 22.3 0 25.5 0 19.6 0 8.4 0 8.6 0 11.0 0 9.0 0 7.0 0 22.0 0 18.0 0 15.0 0 13.0 0 7.0 0 18.0 0 11.0 0 18.0 0 9.0 0 13.0 0 18.0 0 22.0 0 22.0 0 5.0 0 18.0 0 9.0" d="M1507.6,518.1 1508.2,247.5 1508.8,247.5 1509.2,516.6"/>
<path stroke-width="4.3" stroke-dasharray="0 28.1 0 17.9 0 12.2 0 27.0 0 28.3 0 13.9 0 16.5 0 15.9 0 24.9 0 29.1 0 15.6 0 18.3 0 27.2 0 2.2 0 3.6 0 22.0 0 5.0 0 15.0 0 15.0 0 18.0 0 22.0 0 11.0 0 9.0 0 18.0 0 7.0 0 15.0 0 5.0 0 13.0 0 13.0 0 18.0 0 18.0 0 5.0 0 5.0 0 7.0 0 18.0 0 18.0" d="M1522.6,510.6 1523.2,233.4 1523.8,233.4 1524.2,509.1"/>
<path stroke-width="4.3" stroke-dasharray="0 23.3 0 24.1 0 22.4 0 14.0 0 17.5 0 19.2 0 29.2 0 29.5 0 29.9 0 29.3 0 20.3 0 15.0 0 5.8 0 3.6 0 11.0 0 22.0 0 11.0 0 9.0 0 15.0 0 18.0 0 22.0 0 13.0 0 9.0 0 22.0 0 15.0 0 11.0 0 13.0 0 18.0 0 13.0 0 18.0 0 9.0 0 22.0 0 5.0" d="M1537.6,502.9 1538.2,223.4 1538.8,223.4 1539.2,501.4"/>
<path stroke-width="4.3" stroke-dasharray="0 26.5 0 26.4 0 18.4 0 23.8 0 17.8 0 20.7 0 23.2 0 13.5 0 28.1 0 14.7 0 17.5 0 18.9 0 13.5 0 22.2 0 3.9 0 3.6 0 15.0 0 5.0 0 5.0 0 11.0 0 7.0 0 13.0 0 13.0 0 7.0 0 9.0 0 11.0 0 9.0 0 22.0 0 15.0 0 9.0 0 11.0 0 18.0 0 9.0 0 7.0 0 13.0 0 11.0 0 22.0 0 11.0 0 7.0 0 22.0 0 7.0" d="M1551.8,495.4 1552.4,206.2 1553,206.2 1553.5,493.9"/>
</g>
<line x1="429.0" y1="140" x2="429.0" y2="1072" stroke="#00f" stroke-width="4.17"/>
<line x1="1151.0" y1="140" x2="1151.0" y2="1072" stroke="#00f" stroke-width="4.17"/>
<line x1="220" y1="867.9" x2="1625" y2="867.9" stroke="#008000" stroke-width="4.17"/>
<line x1="220" y1="616.95" x2="1625" y2="616.95" stroke="#ffa500" stroke-width="2.08"/>
<line x1="220" y1="767.0" x2="1625" y2="767.0" stroke="#ffa500" stroke-width="2.08"/>
<g class="y">
<circle cx="462.1" cy="842.2" r="6.94"/>
<circle cx="462.2" cy="848.5" r="6.94"/>
<circle cx="462" cy="838.5" r="6.94"/>
<circle cx="436.8" cy="858.8" r="6.94"/>
<circle cx="437.4" cy="866.1" r="6.94"/>
<circle cx="437.4" cy="866.5" r="6.94"/>
<circle cx="437.4" cy="866.9" r="6.94"/>
<circle cx="437.4" cy="867.3" r="6.94"/>
<circle cx="437.4" cy="867.7" r="6.94"/>
<circle cx="437.4" cy="868.1" r="6.94"/>
<circle cx="462.8" cy="857.3" r="6.94"/>
<circle cx="462.8" cy="857.7" r="6.94"/>
<circle cx="462.8" cy="858.1" r="6.94"/>
<circle cx="462.8" cy="858.5" r="6.94"/>
<circle cx="462.8" cy="858.9" r="6.94"/>
<circle cx="462.8" cy="859.3" r="6.94"/>
<circle cx="462.8" cy="859.7" r="6.94"/>
<circle cx="462.8" cy="860.1" r="6.94"/>
<circle cx="462.8" cy="860.5" r="6.94"/>
<circle cx="462.8" cy="860.9" r="6.94"/>
<circle cx="462.8" cy="861.3" r="6.94"/>
<circle cx="462.8" cy="861.7" r="6.94"/>
<circle cx="462.8" cy="862.1" r="6.94"/>
<circle cx="462.8" cy="862.5" r="6.94"/>
<circle cx="462.8" cy="862.9" r="6.94"/>
<circle cx="462.8" cy="863.3" r="6.94"/>
<circle cx="462.8" cy="863.7" r="6.94"/>
<circle cx="462.8" cy="864.1" r="6.94"/>
<circle cx="462.8" cy="864.5" r="6.94"/>
<circle cx="462.8" cy="864.9" r="6.94"/>
<circle cx="462.8" cy="865.3" r="6.94"/>
<circle cx="462.8" cy="865.7" r="6.94"/>
<circle cx="462.8" cy="866.1" r="6.94"/>
<circle cx="462.8" cy="866.5" r="6.94"/>
<circle cx="462.8" cy="866.9" r="6.94"/>
<circle cx="462.8" cy="867.3" r="6.94"/>
<circle cx="462.8" cy="867.7" r="6.94"/>
<circle cx="462.8" cy="868.1" r="6.94"/>
<circle cx="489" cy="847.3" r="6.94"/>
<circle cx="489" cy="847.7" r="6.94"/>
<circle cx="489" cy="848.1" r="6.94"/>
<circle cx="489" cy="848.5" r="6.94"/>
<circle cx="489" cy="848.9" r="6.94"/>
<circle cx="489" cy="849.3" r="6.94"/>
<circle cx="489" cy="849.7" r="6.94"/>
<circle cx="489" cy="850.1" r="6.94"/>
<circle cx="489" cy="850.5" r="6.94"/>
<circle cx="489" cy="850.9" r="6.94"/>
<circle cx="489" cy="851.3" r="6.94"/>
<circle cx="489" cy="851.7" r="6.94"/>
<circle cx="489" cy="852.1" r="6.94"/>
<circle cx="489" cy="852.5" r="6.94"/>
<circle cx="489" cy="852.9" r="6.94"/>
<circle cx="489" cy="853.3" r="6.94"/>
<circle cx="489" cy="853.7" r="6.94"/>
<circle cx="489" cy="854.1" r="6.94"/>
<circle cx="489" cy="854.5" r="6.94"/>
<circle cx="489" cy="854.9" r="6.94"/>
<circle cx="489" cy="855.3" r="6.94"/>
<circle cx="489" cy="855.7" r="6.94"/>
<circle cx="489" cy="856.1" r="6.94"/>
<circle cx="489" cy="856.5" r="6.94"/>
<circle cx="489" cy="856.9" r="6.94"/>
<circle cx="489" cy="857.3" r="6.94"/>
<circle cx="489" cy="857.7" r="6.94"/>
<circle cx="489" cy="858.1" r="6.94"/>
<circle cx="489" cy="858.5" r="6.94"/>
<circle cx="489" cy="858.9" r="6.94"/>
<circle cx="489" cy="859.3" r="6.94"/>
<circle cx="489" cy="859.7" r="6.94"/>
<circle cx="489" cy="860.1" r="6.94"/>
<circle cx="489" cy="860.5" r="6.94"/>
<circle cx="489" cy="860.9" r="6.94"/>
<circle cx="489" cy="861.3" r="6.94"/>
<circle cx="489" cy="861.7" r="6.94"/>
<circle cx="489" cy="862.1" r="6.94"/>
<circle cx="489" cy="862.5" r="6.94"/>
<circle cx="489" cy="862.9" r="6.94"/>
<circle cx="489" cy="863.3" r="6.94"/>
<circle cx="489" cy="863.7" r="6.94"/>
<circle cx="489" cy="864.1" r="6.94"/>
<circle cx="489" cy="864.5" r="6.94"/>
<circle cx="489" cy="864.9" r="6.94"/>
<circle cx="489" cy="865.3" r="6.94"/>
<circle cx="489" cy="865.7" r="6.94"/>
<circle cx="489" cy="866.1" r="6.94"/>
<circle cx="489" cy="866.5" r="6.94"/>
<circle cx="489" cy="866.9" r="6.94"/>
<circle cx="489" cy="867.3" r="6.94"/>
<circle cx="489" cy="867.7" r="6.94"/>
<circle cx="489" cy="868.1" r="6.94"/>
<circle cx="515" cy="841.5" r="6.94"/>
<circle cx="515" cy="841.9" r="6.94"/>
<circle cx="515" cy="842.3" r="6.94"/>
<circle cx="515" cy="842.7" r="6.94"/>
<circle cx="515" cy="843.1" r="6.94"/>
<circle cx="515" cy="843.5" r="6.94"/>
<circle cx="515" cy="843.9" r="6.94"/>
<circle cx="515" cy="844.3" r="6.94"/>
<circle cx="515" cy="844.7" r="6.94"/>
<circle cx="515" cy="845.1" r="6.94"/>
<circle cx="515" cy="845.5" r="6.94"/>
<circle cx="515" cy="845.9" r="6.94"/>
<circle cx="515" cy="846.3" r="6.94"/>
<circle cx="515" cy="846.7" r="6.94"/>
<circle cx="515" cy="847.1" r="6.94"/>
<circle cx="515" cy="847.5" r="6.94"/>
<circle cx="515" cy="847.9" r="6.94"/>
<circle cx="515" cy="848.3" r="6.94"/>
<circle cx="515" cy="848.7" r="6.94"/>
<circle cx="515" cy="849.1" r="6.94"/>
<circle cx="515" cy="849.5" r="6.94"/>
<circle cx="515" cy="849.9" r="6.94"/>
<circle cx="515" cy="850.3" r="6.94"/>
<circle cx="515" cy="850.7" r="6.94"/>
<circle cx="515" cy="851.1" r="6.94"/>
<circle cx="515" cy="851.5" r="6.94"/>
<circle cx="515" cy="851.9" r="6.94"/>
<circle cx="515" cy="852.3" r="6.94"/>
<circle cx="515" cy="852.7" r="6.94"/>
<circle cx="515" cy="853.1" r="6.94"/>
<circle cx="515" cy="853.5" r="6.94"/>
<circle cx="515" cy="853.9" r="6.94"/>
<circle cx="515" cy="854.3" r="6.94"/>
<circle cx="515" cy="854.7" r="6.94"/>
<circle cx="515" cy="855.1" r="6.94"/>
<circle cx="515" cy="855.5" r="6.94"/>
<circle cx="515" cy="855.9" r="6.94"/>
<circle cx="515" cy="856.3" r="6.94"/>
<circle cx="515" cy="856.7" r="6.94"/>
<circle cx="515" cy="857.1" r="6.94"/>
<circle cx="515" cy="857.5" r="6.94"/>
<circle cx="515" cy="857.9" r="6.94"/>
<circle cx="515" cy="858.3" r="6.94"/>
<circle cx="515" cy="858.7" r="6.94"/>
<circle cx="515" cy="859.1" r="6.94"/>
<circle cx="515" cy="859.5" r="6.94"/>
<circle cx="515" cy="859.9" r="6.94"/>
<circle cx="515" cy="860.3" r="6.94"/>
<circle cx="515" cy="860.7" r="6.94"/>
<circle cx="515" cy="861.1" r="6.94"/>
<circle cx="515" cy="861.5" r="6.94"/>
<circle cx="515" cy="861.9" r="6.94"/>
<circle cx="515" cy="862.3" r="6.94"/>
<circle cx="515" cy="862.7" r="6.94"/>
<circle cx="515" cy="863.1" r="6.94"/>
<circle cx="515" cy="863.5" r="6.94"/>
<circle cx="515" cy="863.9" r="6.94"/>
<circle cx="515" cy="864.3" r="6.94"/>
<circle cx="515" cy="864.7" r="6.94"/>
<circle cx="515" cy="865.1" r="6.94"/>
<circle cx="515" cy="865.5" r="6.94"/>
<circle cx="515" cy="865.9" r="6.94"/>
<circle cx="515" cy="866.3" r="6.94"/>
<circle cx="515" cy="866.7" r="6.94"/>
<circle cx="515" cy="867.1" r="6.94"/>
<circle cx="515" cy="867.5" r="6.94"/>
<circle cx="515" cy="867.9" r="6.94"/>
<circle cx="515" cy="868.3" r="6.94"/>
<circle cx="540.8" cy="841.8" r="6.94"/>
<circle cx="540.8" cy="842.5" r="6.94"/>
<circle cx="540.8" cy="843.2" r="6.94"/>
<circle cx="540.8" cy="843.9" r="6.94"/>
<circle cx="540.8" cy="844.6" r="6.94"/>
<circle cx="540.8" cy="845.3" r="6.94"/>
<circle cx="540.8" cy="846" r="6.94"/>
<circle cx="540.8" cy="846.7" r="6.94"/>
<circle cx="540.8" cy="847.4" r="6.94"/>
<circle cx="540.8" cy="848.1" r="6.94"/>
<circle cx="540.8" cy="848.8" r="6.94"/>
<circle cx="540.8" cy="849.5" r="6.94"/>
<circle cx="540.8" cy="850.2" r="6.94"/>
<circle cx="540.8" cy="850.9" r="6.94"/>
<circle cx="540.8" cy="851.6" r="6.94"/>
<circle cx="540.8" cy="852.3" r="6.94"/>
<circle cx="540.8" cy="853" r="6.94"/>
<circle cx="540.8" cy="853.7" r="6.94"/>
<circle cx="540.8" cy="854.4" r="6.94"/>
<circle cx="540.8" cy="855.1" r="6.94"/>
<circle cx="540.8" cy="855.8" r="6.94"/>
<circle cx="540.8" cy="856.5" r="6.94"/>
<circle cx="540.8" cy="857.2" r="6.94"/>
<circle cx="540.8" cy="857.9" r="6.94"/>
<circle cx="540.8" cy="858.6" r="6.94"/>
<circle cx="540.8" cy="859.3" r="6.94"/>
<circle cx="540.8" cy="860" r="6.94"/>
<circle cx="540.8" cy="860.7" r="6.94"/>
<circle cx="540.8" cy="861.4" r="6.94"/>
<circle cx="540.8" cy="862.1" r="6.94"/>
<circle cx="540.8" cy="862.8" r="6.94"/>
<circle cx="540.8" cy="863.5" r="6.94"/>
<circle cx="540.8" cy="864.2" r="6.94"/>
<circle cx="540.8" cy="864.9" r="6.94"/>
<circle cx="540.8" cy="865.6" r="6.94"/>
<circle cx="540.8" cy="866.3" r="6.94"/>
<circle cx="540.8" cy="867" r="6.94"/>
<circle cx="540.8" cy="867.7" r="6.94"/>
<circle cx="540.8" cy="868.4" r="6.94"/>
<circle cx="566.3" cy="842" r="6.94"/>
<circle cx="566.3" cy="843.4" r="6.94"/>
<circle cx="566.3" cy="844.8" r="6.94"/>
<circle cx="566.3" cy="846.2" r="6.94"/>
<circle cx="566.3" cy="847.6" r="6.94"/>
<circle cx="566.3" cy="849" r="6.94"/>
<circle cx="566.3" cy="850.4" r="6.94"/>
<circle cx="566.3" cy="851.8" r="6.94"/>
<circle cx="566.3" cy="853.2" r="6.94"/>
<circle cx="566.3" cy="854.6" r="6.94"/>
<circle cx="566.3" cy="856" r="6.94"/>
<circle cx="566.3" cy="857.4" r="6.94"/>
<circle cx="566.3" cy="858.8" r="6.94"/>
<circle cx="566.3" cy="860.2" r="6.94"/>
<circle cx="566.3" cy="861.6" r="6.94"/>
<circle cx="566.3" cy="863" r="6.94"/>
<circle cx="566.3" cy="864.4" r="6.94"/>
<circle cx="566.3" cy="865.8" r="6.94"/>
<circle cx="566.3" cy="867.2" r="6.94"/>
<circle cx="591.5" cy="842.7" r="6.94"/>
<circle cx="591.5" cy="845.1" r="6.94"/>
<circle cx="591.5" cy="847.5" r="6.94"/>
<circle cx="591.5" cy="849.9" r="6.94"/>
<circle cx="591.5" cy="852.3" r="6.94"/>
<circle cx="591.6" cy="854.7" r="6.94"/>
<circle cx="591.6" cy="857.1" r="6.94"/>
<circle cx="591.6" cy="859.5" r="6.94"/>
<circle cx="591.6" cy="861.9" r="6.94"/>
<circle cx="591.6" cy="864.3" r="6.94"/>
<circle cx="591.6" cy="866.7" r="6.94"/>
<circle cx="617" cy="842.3" r="6.94"/>
<circle cx="617" cy="844.7" r="6.94"/>
<circle cx="617.1" cy="847.1" r="6.94"/>
<circle cx="617.1" cy="849.5" r="6.94"/>
<circle cx="617.1" cy="851.9" r="6.94"/>
<circle cx="617.1" cy="854.3" r="6.94"/>
<circle cx="617.1" cy="856.7" r="6.94"/>
<circle cx="617.1" cy="859.1" r="6.94"/>
<circle cx="617.1" cy="861.5" r="6.94"/>
<circle cx="617.1" cy="863.9" r="6.94"/>
<circle cx="617.1" cy="866.3" r="6.94"/>
<circle cx="641.3" cy="842.1" r="6.94"/>
<circle cx="641.3" cy="844.5" r="6.94"/>
<circle cx="641.3" cy="846.9" r="6.94"/>
<circle cx="641.3" cy="849.3" r="6.94"/>
<circle cx="641.3" cy="851.7" r="6.94"/>
<circle cx="641.3" cy="854.1" r="6.94"/>
<circle cx="641.3" cy="856.5" r="6.94"/>
<circle cx="641.3" cy="858.9" r="6.94"/>
<circle cx="641.3" cy="861.3" r="6.94"/>
<circle cx="641.3" cy="863.7" r="6.94"/>
<circle cx="641.3" cy="866.1" r="6.94"/>
<circle cx="665.9" cy="841.9" r="6.94"/>
<circle cx="665.9" cy="844.3" r="6.94"/>
<circle cx="665.9" cy="846.7" r="6.94"/>
<circle cx="665.9" cy="849.1" r="6.94"/>
<circle cx="665.9" cy="851.5" r="6.94"/>
<circle cx="665.9" cy="853.9" r="6.94"/>
<circle cx="665.9" cy="856.3" r="6.94"/>
<circle cx="665.9" cy="858.7" r="6.94"/>
<circle cx="665.9" cy="861.1" r="6.94"/>
<circle cx="665.9" cy="863.5" r="6.94"/>
<circle cx="665.9" cy="865.9" r="6.94"/>
<circle cx="665.9" cy="868.3" r="6.94"/>
<circle cx="690.1" cy="841.7" r="6.94"/>
<circle cx="690.1" cy="844.1" r="6.94"/>
<circle cx="690.1" cy="846.5" r="6.94"/>
<circle cx="690.1" cy="848.9" r="6.94"/>
<circle cx="690.1" cy="851.3" r="6.94"/>
<circle cx="690.1" cy="853.7" r="6.94"/>
<circle cx="690.1" cy="856.1" r="6.94"/>
<circle cx="690.1" cy="858.5" r="6.94"/>
<circle cx="690.1" cy="860.9" r="6.94"/>
<circle cx="690.1" cy="863.3" r="6.94"/>
<circle cx="690.1" cy="865.7" r="6.94"/>
<circle cx="690.1" cy="868.1" r="6.94"/>
<circle cx="714.1" cy="840.5" r="6.94"/>
<circle cx="714.1" cy="842.9" r="6.94"/>
<circle cx="714.1" cy="845.3" r="6.94"/>
<circle cx="714.1" cy="847.7" r="6.94"/>
<circle cx="714.1" cy="850.1" r="6.94"/>
<circle cx="714.1" cy="852.5" r="6.94"/>
<circle cx="714.1" cy="854.9" r="6.94"/>
<circle cx="714.1" cy="857.3" r="6.94"/>
<circle cx="714.1" cy="859.7" r="6.94"/>
<circle cx="714.1" cy="862.1" r="6.94"/>
<circle cx="714.1" cy="864.5" r="6.94"/>
<circle cx="714.1" cy="866.9" r="6.94"/>
<circle cx="737.1" cy="838.8" r="6.94"/>
<circle cx="737.1" cy="841.2" r="6.94"/>
<circle cx="737.1" cy="843.6" r="6.94"/>
<circle cx="737.1" cy="846" r="6.94"/>
<circle cx="737.1" cy="848.4" r="6.94"/>
<circle cx="737.1" cy="850.8" r="6.94"/>
<circle cx="737.1" cy="853.2" r="6.94"/>
<circle cx="737.1" cy="855.6" r="6.94"/>
<circle cx="737.1" cy="858" r="6.94"/>
<circle cx="737.1" cy="860.4" r="6.94"/>
<circle cx="737.1" cy="862.8" r="6.94"/>
<circle cx="737.1" cy="865.2" r="6.94"/>
<circle cx="737.1" cy="867.6" r="6.94"/>
<circle cx="761.1" cy="839.2" r="6.94"/>
<circle cx="761.1" cy="841.6" r="6.94"/>
<circle cx="761.1" cy="844" r="6.94"/>
<circle cx="761.1" cy="846.4" r="6.94"/>
<circle cx="761.1" cy="848.8" r="6.94"/>
<circle cx="761.1" cy="851.2" r="6.94"/>
<circle cx="761.1" cy="853.6" r="6.94"/>
<circle cx="761.1" cy="856" r="6.94"/>
<circle cx="761.1" cy="858.4" r="6.94"/>
<circle cx="761.1" cy="860.8" r="6.94"/>
<circle cx="761.1" cy="863.2" r="6.94"/>
<circle cx="761.1" cy="865.6" r="6.94"/>
<circle cx="761.1" cy="868" r="6.94"/>
<circle cx="784.1" cy="837.5" r="6.94"/>
<circle cx="784.1" cy="839.9" r="6.94"/>
<circle cx="784.1" cy="842.3" r="6.94"/>
<circle cx="784.1" cy="844.7" r="6.94"/>
<circle cx="784.1" cy="847.1" r="6.94"/>
<circle cx="784.1" cy="849.5" r="6.94"/>
<circle cx="784.1" cy="851.9" r="6.94"/>
<circle cx="784.1" cy="854.3" r="6.94"/>
<circle cx="784.1" cy="856.7" r="6.94"/>
<circle cx="784.1" cy="859.1" r="6.94"/>
<circle cx="784.1" cy="861.5" r="6.94"/>
<circle cx="784.1" cy="863.9" r="6.94"/>
<circle cx="784.1" cy="866.3" r="6.94"/>
<circle cx="806.1" cy="838.5" r="6.94"/>
<circle cx="806.1" cy="840.9" r="6.94"/>
<circle cx="806.1" cy="843.3" r="6.94"/>
<circle cx="806.1" cy="845.7" r="6.94"/>
<circle cx="806.1" cy="848.1" r="6.94"/>
<circle cx="806.1" cy="850.5" r="6.94"/>
<circle cx="806.1" cy="852.9" r="6.94"/>
<circle cx="806.1" cy="855.3" r="6.94"/>
<circle cx="806.1" cy="857.7" r="6.94"/>
<circle cx="806.1" cy="860.1" r="6.94"/>
<circle cx="806.1" cy="862.5" r="6.94"/>
<circle cx="806.1" cy="864.9" r="6.94"/>
<circle cx="806.1" cy="867.3" r="6.94"/>
<circle cx="828.9" cy="836.8" r="6.94"/>
<circle cx="828.9" cy="839.2" r="6.94"/>
<circle cx="828.9" cy="841.6" r="6.94"/>
<circle cx="828.9" cy="844" r="6.94"/>
<circle cx="828.9" cy="846.4" r="6.94"/>
<circle cx="828.9" cy="848.8" r="6.94"/>
<circle cx="828.9" cy="851.2" r="6.94"/>
<circle cx="828.9" cy="853.6" r="6.94"/>
<circle cx="828.9" cy="856" r="6.94"/>
<circle cx="828.9" cy="858.4" r="6.94"/>
<circle cx="828.9" cy="860.8" r="6.94"/>
<circle cx="828.9" cy="863.2" r="6.94"/>
<circle cx="828.9" cy="865.6" r="6.94"/>
<circle cx="828.9" cy="868" r="6.94"/>
<circle cx="850.9" cy="837.8" r="6.94"/>
<circle cx="850.9" cy="840.2" r="6.94"/>
<circle cx="850.9" cy="842.6" r="6.94"/>
<circle cx="850.9" cy="845" r="6.94"/>
<circle cx="850.9" cy="847.4" r="6.94"/>
<circle cx="850.9" cy="849.8" r="6.94"/>
<circle cx="850.9" cy="852.2" r="6.94"/>
<circle cx="850.9" cy="854.6" r="6.94"/>
<circle cx="850.9" cy="857" r="6.94"/>
<circle cx="850.9" cy="859.4" r="6.94"/>
<circle cx="850.9" cy="861.8" r="6.94"/>
<circle cx="850.9" cy="864.2" r="6.94"/>
<circle cx="851" cy="866.6" r="6.94"/>
<circle cx="872.9" cy="836.4" r="6.94"/>
<circle cx="872.9" cy="838.8" r="6.94"/>
<circle cx="872.9" cy="841.2" r="6.94"/>
<circle cx="872.9" cy="843.6" r="6.94"/>
<circle cx="872.9" cy="846" r="6.94"/>
<circle cx="872.9" cy="848.4" r="6.94"/>
<circle cx="872.9" cy="850.8" r="6.94"/>
<circle cx="872.9" cy="853.2" r="6.94"/>
<circle cx="872.9" cy="855.6" r="6.94"/>
<circle cx="872.9" cy="858" r="6.94"/>
<circle cx="872.9" cy="860.4" r="6.94"/>
<circle cx="873" cy="862.8" r="6.94"/>
<circle cx="873.1" cy="865.2" r="6.94"/>
<circle cx="873.1" cy="867.6" r="6.94"/>
<circle cx="894.1" cy="834.9" r="6.94"/>
<circle cx="894.1" cy="837.3" r="6.94"/>
<circle cx="894.1" cy="839.7" r="6.94"/>
<circle cx="894.1" cy="842.1" r="6.94"/>
<circle cx="894.1" cy="844.5" r="6.94"/>
<circle cx="894.1" cy="846.9" r="6.94"/>
<circle cx="894.1" cy="849.3" r="6.94"/>
<circle cx="894.1" cy="851.7" r="6.94"/>
<circle cx="894.2" cy="854.1" r="6.94"/>
<circle cx="894.2" cy="856.5" r="6.94"/>
<circle cx="894.3" cy="858.9" r="6.94"/>
<circle cx="894.3" cy="861.3" r="6.94"/>
<circle cx="894.4" cy="863.7" r="6.94"/>
<circle cx="894.5" cy="866.1" r="6.94"/>
<circle cx="915.4" cy="835.8" r="6.94"/>
<circle cx="915.4" cy="838.2" r="6.94"/>
<circle cx="915.4" cy="840.6" r="6.94"/>
<circle cx="915.4" cy="843" r="6.94"/>
<circle cx="915.4" cy="845.4" r="6.94"/>
<circle cx="915.4" cy="847.8" r="6.94"/>
<circle cx="915.5" cy="850.2" r="6.94"/>
<circle cx="915.5" cy="852.6" r="6.94"/>
<circle cx="915.6" cy="855" r="6.94"/>
<circle cx="915.6" cy="857.4" r="6.94"/>
<circle cx="915.7" cy="859.8" r="6.94"/>
<circle cx="915.8" cy="862.2" r="6.94"/>
<circle cx="915.8" cy="864.6" r="6.94"/>
<circle cx="936.4" cy="834.5" r="6.94"/>
<circle cx="936.4" cy="836.9" r="6.94"/>
<circle cx="936.4" cy="839.3" r="6.94"/>
<circle cx="936.4" cy="841.7" r="6.94"/>
<circle cx="936.5" cy="844.1" r="6.94"/>
<circle cx="936.5" cy="846.5" r="6.94"/>
<circle cx="936.6" cy="848.9" r="6.94"/>
<circle cx="936.6" cy="851.3" r="6.94"/>
<circle cx="936.7" cy="853.7" r="6.94"/>
<circle cx="936.8" cy="856.1" r="6.94"/>
<circle cx="936.8" cy="858.5" r="6.94"/>
<circle cx="936.9" cy="864" r="6.94"/>
<circle cx="957.1" cy="833.5" r="6.94"/>
<circle cx="957.1" cy="835.9" r="6.94"/>
<circle cx="957.2" cy="838.3" r="6.94"/>
<circle cx="957.3" cy="840.7" r="6.94"/>
<circle cx="957.3" cy="843.1" r="6.94"/>
<circle cx="957.4" cy="845.5" r="6.94"/>
<circle cx="957.4" cy="847.9" r="6.94"/>
<circle cx="957.5" cy="850.3" r="6.94"/>
<circle cx="957.6" cy="852.7" r="6.94"/>
<circle cx="957.7" cy="858.2" r="6.94"/>
<circle cx="957.8" cy="863.7" r="6.94"/>
<circle cx="977.2" cy="832.5" r="6.94"/>
<circle cx="977.3" cy="834.9" r="6.94"/>
<circle cx="977.3" cy="837.3" r="6.94"/>
<circle cx="977.4" cy="839.7" r="6.94"/>
<circle cx="977.5" cy="842.1" r="6.94"/>
<circle cx="977.5" cy="844.5" r="6.94"/>
<circle cx="977.6" cy="846.9" r="6.94"/>
<circle cx="977.7" cy="852.4" r="6.94"/>
<circle cx="977.8" cy="857.9" r="6.94"/>
<circle cx="977.8" cy="863.4" r="6.94"/>
<circle cx="997.6" cy="831.5" r="6.94"/>
<circle cx="997.6" cy="833.9" r="6.94"/>
<circle cx="997.7" cy="836.3" r="6.94"/>
<circle cx="997.8" cy="838.7" r="6.94"/>
<circle cx="997.8" cy="841.1" r="6.94"/>
<circle cx="998" cy="846.6" r="6.94"/>
<circle cx="998" cy="852.1" r="6.94"/>
<circle cx="998.1" cy="857.6" r="6.94"/>
<circle cx="998.1" cy="863.1" r="6.94"/>
<circle cx="1017.4" cy="830.9" r="6.94"/>
<circle cx="1017.5" cy="833.3" r="6.94"/>
<circle cx="1017.6" cy="835.7" r="6.94"/>
<circle cx="1017.7" cy="841.2" r="6.94"/>
<circle cx="1017.7" cy="846.7" r="6.94"/>
<circle cx="1017.8" cy="852.2" r="6.94"/>
<circle cx="1017.8" cy="857.7" r="6.94"/>
<circle cx="1017.9" cy="863.2" r="6.94"/>
<circle cx="1037.6" cy="830.4" r="6.94"/>
<circle cx="1037.7" cy="835.9" r="6.94"/>
<circle cx="1037.8" cy="841.4" r="6.94"/>
<circle cx="1037.8" cy="846.9" r="6.94"/>
<circle cx="1037.9" cy="852.4" r="6.94"/>
<circle cx="1037.9" cy="857.9" r="6.94"/>
<circle cx="1057" cy="829.8" r="6.94"/>
<circle cx="1057" cy="835.3" r="6.94"/>
<circle cx="1057.1" cy="840.8" r="6.94"/>
<circle cx="1057.1" cy="846.3" r="6.94"/>
<circle cx="1057.2" cy="851.8" r="6.94"/>
<circle cx="1076.5" cy="832.8" r="6.94"/>
<circle cx="1076.6" cy="838.3" r="6.94"/>
<circle cx="1076.6" cy="843.8" r="6.94"/>
<circle cx="1095.1" cy="832.2" r="6.94"/>
<circle cx="1095.1" cy="837.7" r="6.94"/>
<circle cx="1114.2" cy="826.8" r="6.94"/>
<circle cx="1114.2" cy="832.3" r="6.94"/>
</g>
<g class="w">
<circle cx="916.6" cy="868" r="6.94"/>
<circle cx="937.6" cy="867" r="6.94"/>
<circle cx="937.7" cy="862" r="6.94"/>
<circle cx="958.3" cy="866" r="6.94"/>
<circle cx="958.3" cy="861" r="6.94"/>
<circle cx="958.4" cy="856" r="6.94"/>
<circle cx="978.2" cy="865" r="6.94"/>
<circle cx="978.3" cy="860" r="6.94"/>
<circle cx="978.4" cy="855" r="6.94"/>
<circle cx="978.5" cy="850" r="6.94"/>
<circle cx="998.4" cy="863.9" r="6.94"/>
<circle cx="998.5" cy="858.9" r="6.94"/>
<circle cx="998.5" cy="854" r="6.94"/>
<circle cx="998.6" cy="848.9" r="6.94"/>
<circle cx="998.7" cy="843.9" r="6.94"/>
<circle cx="1018" cy="864.1" r="6.94"/>
<circle cx="1018.1" cy="859" r="6.94"/>
<circle cx="1018.2" cy="854.1" r="6.94"/>
<circle cx="1018.3" cy="849.1" r="6.94"/>
<circle cx="1018.4" cy="844" r="6.94"/>
<circle cx="1018.5" cy="839.1" r="6.94"/>
<circle cx="1038" cy="862" r="6.94"/>
<circle cx="1038" cy="857" r="6.94"/>
<circle cx="1038.1" cy="851.9" r="6.94"/>
<circle cx="1038.2" cy="847" r="6.94"/>
<circle cx="1038.3" cy="841.9" r="6.94"/>
<circle cx="1038.4" cy="836.9" r="6.94"/>
<circle cx="1038.5" cy="831.9" r="6.94"/>
<circle cx="1057.2" cy="855.9" r="6.94"/>
<circle cx="1057.3" cy="850.9" r="6.94"/>
<circle cx="1057.4" cy="845.9" r="6.94"/>
<circle cx="1057.4" cy="840.9" r="6.94"/>
<circle cx="1057.5" cy="835.9" r="6.94"/>
<circle cx="1057.6" cy="830.9" r="6.94"/>
<circle cx="1076.7" cy="849.8" r="6.94"/>
<circle cx="1076.8" cy="844.8" r="6.94"/>
<circle cx="1076.8" cy="839.8" r="6.94"/>
<circle cx="1076.9" cy="834.8" r="6.94"/>
<circle cx="1077" cy="829.8" r="6.94"/>
<circle cx="1095.2" cy="843.9" r="6.94"/>
<circle cx="1095.3" cy="838.9" r="6.94"/>
<circle cx="1095.3" cy="833.9" r="6.94"/>
<circle cx="1095.4" cy="828.8" r="6.94"/>
<circle cx="1114.3" cy="838" r="6.94"/>
<circle cx="1114.4" cy="833" r="6.94"/>
<circle cx="1114.4" cy="828" r="6.94"/>
<circle cx="1133" cy="830.6" r="6.94"/>
<circle cx="1133.1" cy="825.6" r="6.94"/>
<circle cx="1150.6" cy="824" r="6.94"/>
</g>
<g class="z">
<circle cx="429.9" cy="868.3" r="6.94"/>
<circle cx="430.1" cy="868" r="6.94"/>
<circle cx="430.5" cy="867.7" r="6.94"/>
<circle cx="430.8" cy="867.4" r="6.94"/>
<circle cx="431.1" cy="867.1" r="6.94"/>
<circle cx="431.4" cy="866.9" r="6.94"/>
<circle cx="431.6" cy="866.7" r="6.94"/>
<circle cx="431.9" cy="866.4" r="6.94"/>
<circle cx="432.2" cy="866.2" r="6.94"/>
<circle cx="432.6" cy="866.2" r="6.94"/>
<circle cx="432.8" cy="866.2" r="6.94"/>
<circle cx="433.1" cy="866.2" r="6.94"/>
<circle cx="433.4" cy="866.3" r="6.94"/>
<circle cx="433.7" cy="866.3" r="6.94"/>
<circle cx="434" cy="866.3" r="6.94"/>
<circle cx="434.3" cy="866.4" r="6.94"/>
<circle cx="434.6" cy="866.4" r="6.94"/>
<circle cx="434.9" cy="866.4" r="6.94"/>
<circle cx="435.3" cy="866.7" r="6.94"/>
<circle cx="435.6" cy="867" r="6.94"/>
<circle cx="435.9" cy="867.2" r="6.94"/>
<circle cx="436.2" cy="867.5" r="6.94"/>
<circle cx="436.3" cy="868.1" r="6.94"/>
<circle cx="450.4" cy="868.3" r="6.94"/>
<circle cx="450.7" cy="867.5" r="6.94"/>
<circle cx="451" cy="866.8" r="6.94"/>
<circle cx="451.3" cy="866.1" r="6.94"/>
<circle cx="451.6" cy="865.4" r="6.94"/>
<circle cx="451.9" cy="864.8" r="6.94"/>
<circle cx="452.2" cy="864.3" r="6.94"/>
<circle cx="452.5" cy="863.7" r="6.94"/>
<circle cx="452.8" cy="863.2" r="6.94"/>
<circle cx="453.1" cy="862.7" r="6.94"/>
<circle cx="453.4" cy="862.3" r="6.94"/>
<circle cx="453.7" cy="861.9" r="6.94"/>
<circle cx="454" cy="861.4" r="6.94"/>
<circle cx="454.3" cy="861.1" r="6.94"/>
<circle cx="454.6" cy="860.7" r="6.94"/>
<circle cx="454.9" cy="860.3" r="6.94"/>
<circle cx="455.2" cy="859.8" r="6.94"/>
<circle cx="455.5" cy="859.5" r="6.94"/>
<circle cx="455.8" cy="859.1" r="6.94"/>
<circle cx="456.1" cy="858.8" r="6.94"/>
<circle cx="456.4" cy="858.5" r="6.94"/>
<circle cx="456.7" cy="858.2" r="6.94"/>
<circle cx="457" cy="858" r="6.94"/>
<circle cx="457.3" cy="857.7" r="6.94"/>
<circle cx="457.6" cy="857.5" r="6.94"/>
<circle cx="457.9" cy="857.3" r="6.94"/>
<circle cx="458.2" cy="857.4" r="6.94"/>
<circle cx="458.5" cy="857.4" r="6.94"/>
<circle cx="458.8" cy="857.5" r="6.94"/>
<circle cx="459.1" cy="857.5" r="6.94"/>
<circle cx="459.4" cy="857.5" r="6.94"/>
<circle cx="459.7" cy="857.6" r="6.94"/>
<circle cx="460" cy="857.6" r="6.94"/>
<circle cx="460.3" cy="857.6" r="6.94"/>
<circle cx="460.6" cy="857.8" r="6.94"/>
<circle cx="460.9" cy="858.1" r="6.94"/>
<circle cx="461.2" cy="858.4" r="6.94"/>
<circle cx="461.5" cy="858.7" r="6.94"/>
<circle cx="461.7" cy="859.2" r="6.94"/>
<circle cx="461.8" cy="860.3" r="6.94"/>
<circle cx="461.9" cy="861.4" r="6.94"/>
<circle cx="461.9" cy="862.5" r="6.94"/>
<circle cx="462" cy="863.6" r="6.94"/>
<circle cx="462.1" cy="864.7" r="6.94"/>
<circle cx="462.1" cy="865.8" r="6.94"/>
<circle cx="462.2" cy="866.9" r="6.94"/>
<circle cx="462.2" cy="868" r="6.94"/>
<circle cx="473" cy="868.2" r="6.94"/>
<circle cx="473.3" cy="867.1" r="6.94"/>
<circle cx="473.6" cy="866" r="6.94"/>
<circle cx="473.9" cy="864.9" r="6.94"/>
<circle cx="474.2" cy="863.9" r="6.94"/>
<circle cx="474.5" cy="863" r="6.94"/>
<circle cx="474.8" cy="862" r="6.94"/>
<circle cx="475.1" cy="861.1" r="6.94"/>
<circle cx="475.4" cy="860.3" r="6.94"/>
<circle cx="475.7" cy="859.5" r="6.94"/>
<circle cx="476" cy="858.7" r="6.94"/>
<circle cx="476.3" cy="857.9" r="6.94"/>
<circle cx="476.6" cy="857.1" r="6.94"/>
<circle cx="476.9" cy="856.4" r="6.94"/>
<circle cx="477.2" cy="855.8" r="6.94"/>
<circle cx="477.5" cy="855.2" r="6.94"/>
<circle cx="477.8" cy="854.6" r="6.94"/>
<circle cx="478.1" cy="854.1" r="6.94"/>
<circle cx="478.4" cy="853.6" r="6.94"/>
<circle cx="478.7" cy="853.1" r="6.94"/>
<circle cx="479" cy="852.6" r="6.94"/>
<circle cx="479.3" cy="852.2" r="6.94"/>
<circle cx="479.6" cy="851.8" r="6.94"/>
<circle cx="479.9" cy="851.3" r="6.94"/>
<circle cx="480.2" cy="851" r="6.94"/>
<circle cx="480.5" cy="850.6" r="6.94"/>
<circle cx="480.8" cy="850.2" r="6.94"/>
<circle cx="481.1" cy="849.8" r="6.94"/>
<circle cx="481.4" cy="849.4" r="6.94"/>
<circle cx="481.7" cy="849.1" r="6.94"/>
<circle cx="482" cy="848.8" r="6.94"/>
<circle cx="482.3" cy="848.5" r="6.94"/>
<circle cx="482.6" cy="848.2" r="6.94"/>
<circle cx="482.9" cy="847.9" r="6.94"/>
<circle cx="483.2" cy="847.7" r="6.94"/>
<circle cx="483.5" cy="847.5" r="6.94"/>
<circle cx="483.8" cy="847.3" r="6.94"/>
<circle cx="484.1" cy="847.3" r="6.94"/>
<circle cx="484.4" cy="847.3" r="6.94"/>
<circle cx="484.7" cy="847.4" r="6.94"/>
<circle cx="485" cy="847.4" r="6.94"/>
<circle cx="485.3" cy="847.4" r="6.94"/>
<circle cx="485.6" cy="847.5" r="6.94"/>
<circle cx="485.9" cy="847.5" r="6.94"/>
<circle cx="486.2" cy="847.5" r="6.94"/>
<circle cx="486.5" cy="847.6" r="6.94"/>
<circle cx="486.8" cy="847.7" r="6.94"/>
<circle cx="487.1" cy="848" r="6.94"/>
<circle cx="487.4" cy="848.3" r="6.94"/>
<circle cx="487.7" cy="848.5" r="6.94"/>
<circle cx="497.5" cy="867.6" r="6.94"/>
<circle cx="497.7" cy="866.5" r="6.94"/>
<circle cx="497.9" cy="865.4" r="6.94"/>
<circle cx="498.1" cy="864.3" r="6.94"/>
<circle cx="498.3" cy="863.2" r="6.94"/>
<circle cx="498.5" cy="862.1" r="6.94"/>
<circle cx="498.7" cy="861" r="6.94"/>
<circle cx="499" cy="859.9" r="6.94"/>
<circle cx="499.2" cy="858.8" r="6.94"/>
<circle cx="499.5" cy="857.7" r="6.94"/>
<circle cx="499.8" cy="856.6" r="6.94"/>
<circle cx="500.1" cy="855.5" r="6.94"/>
<circle cx="500.4" cy="854.5" r="6.94"/>
<circle cx="500.7" cy="853.6" r="6.94"/>
<circle cx="501" cy="852.6" r="6.94"/>
<circle cx="501.3" cy="851.8" r="6.94"/>
<circle cx="501.6" cy="851" r="6.94"/>
<circle cx="501.9" cy="850.1" r="6.94"/>
<circle cx="502.2" cy="849.3" r="6.94"/>
<circle cx="502.5" cy="848.6" r="6.94"/>
<circle cx="502.8" cy="847.9" r="6.94"/>
<circle cx="503.1" cy="847.2" r="6.94"/>
<circle cx="503.4" cy="846.5" r="6.94"/>
<circle cx="503.7" cy="845.9" r="6.94"/>
<circle cx="504" cy="845.4" r="6.94"/>
<circle cx="504.3" cy="844.8" r="6.94"/>
<circle cx="504.6" cy="844.3" r="6.94"/>
<circle cx="504.9" cy="843.8" r="6.94"/>
<circle cx="505.2" cy="843.3" r="6.94"/>
<circle cx="505.5" cy="842.9" r="6.94"/>
<circle cx="505.8" cy="842.5" r="6.94"/>
<circle cx="506.1" cy="842.1" r="6.94"/>
<circle cx="506.4" cy="841.7" r="6.94"/>
<circle cx="522.1" cy="868.2" r="6.94"/>
<circle cx="522.2" cy="867.1" r="6.94"/>
<circle cx="522.4" cy="866" r="6.94"/>
<circle cx="522.5" cy="864.9" r="6.94"/>
<circle cx="522.7" cy="863.8" r="6.94"/>
<circle cx="522.8" cy="862.7" r="6.94"/>
<circle cx="523" cy="861.6" r="6.94"/>
<circle cx="523.2" cy="860.5" r="6.94"/>
<circle cx="523.4" cy="859.4" r="6.94"/>
<circle cx="523.5" cy="858.3" r="6.94"/>
<circle cx="523.7" cy="857.2" r="6.94"/>
<circle cx="523.9" cy="856.1" r="6.94"/>
<circle cx="524.1" cy="855" r="6.94"/>
<circle cx="524.4" cy="853.9" r="6.94"/>
<circle cx="524.6" cy="852.8" r="6.94"/>
<circle cx="524.8" cy="851.7" r="6.94"/>
<circle cx="525.1" cy="850.6" r="6.94"/>
<circle cx="525.3" cy="849.5" r="6.94"/>
<circle cx="525.6" cy="848.4" r="6.94"/>
<circle cx="525.9" cy="847.4" r="6.94"/>
<circle cx="526.2" cy="846.3" r="6.94"/>
<circle cx="526.5" cy="845.3" r="6.94"/>
<circle cx="526.8" cy="844.4" r="6.94"/>
<circle cx="527.1" cy="843.5" r="6.94"/>
<circle cx="527.4" cy="842.6" r="6.94"/>
<circle cx="527.7" cy="841.8" r="6.94"/>
<circle cx="546.8" cy="868.2" r="6.94"/>
<circle cx="546.9" cy="867.1" r="6.94"/>
<circle cx="547" cy="866" r="6.94"/>
<circle cx="547.1" cy="864.9" r="6.94"/>
<circle cx="547.2" cy="863.8" r="6.94"/>
<circle cx="547.4" cy="862.7" r="6.94"/>
<circle cx="547.5" cy="861.6" r="6.94"/>
<circle cx="547.6" cy="860.5" r="6.94"/>
<circle cx="547.8" cy="859.4" r="6.94"/>
<circle cx="547.9" cy="858.3" r="6.94"/>
<circle cx="548" cy="857.2" r="6.94"/>
<circle cx="548.2" cy="856.1" r="6.94"/>
<circle cx="548.3" cy="855" r="6.94"/>
<circle cx="548.5" cy="853.9" r="6.94"/>
<circle cx="548.7" cy="852.8" r="6.94"/>
<circle cx="548.8" cy="851.7" r="6.94"/>
<circle cx="549" cy="850.6" r="6.94"/>
<circle cx="549.2" cy="849.5" r="6.94"/>
<circle cx="549.4" cy="848.4" r="6.94"/>
<circle cx="549.6" cy="847.3" r="6.94"/>
<circle cx="549.8" cy="846.2" r="6.94"/>
<circle cx="550" cy="845.1" r="6.94"/>
<circle cx="550.2" cy="844" r="6.94"/>
<circle cx="550.4" cy="842.9" r="6.94"/>
<circle cx="550.7" cy="841.8" r="6.94"/>
<circle cx="571.6" cy="868.2" r="6.94"/>
<circle cx="571.7" cy="867.1" r="6.94"/>
<circle cx="571.8" cy="866" r="6.94"/>
<circle cx="571.9" cy="864.9" r="6.94"/>
<circle cx="572" cy="863.8" r="6.94"/>
<circle cx="572.1" cy="862.7" r="6.94"/>
<circle cx="572.2" cy="861.6" r="6.94"/>
<circle cx="572.3" cy="860.5" r="6.94"/>
<circle cx="572.4" cy="859.4" r="6.94"/>
<circle cx="572.5" cy="858.3" r="6.94"/>
<circle cx="572.6" cy="857.2" r="6.94"/>
<circle cx="572.7" cy="856.1" r="6.94"/>
<circle cx="572.9" cy="855" r="6.94"/>
<circle cx="573" cy="853.9" r="6.94"/>
<circle cx="573.1" cy="852.8" r="6.94"/>
<circle cx="573.2" cy="851.7" r="6.94"/>
<circle cx="573.4" cy="850.6" r="6.94"/>
<circle cx="573.5" cy="849.5" r="6.94"/>
<circle cx="573.7" cy="848.4" r="6.94"/>
<circle cx="573.8" cy="847.3" r="6.94"/>
<circle cx="574" cy="846.2" r="6.94"/>
<circle cx="574.2" cy="845.1" r="6.94"/>
<circle cx="574.3" cy="844" r="6.94"/>
<circle cx="574.5" cy="842.9" r="6.94"/>
<circle cx="574.7" cy="841.8" r="6.94"/>
<circle cx="596.2" cy="868.4" r="6.94"/>
<circle cx="596.3" cy="867.3" r="6.94"/>
<circle cx="596.4" cy="866.2" r="6.94"/>
<circle cx="596.5" cy="865.1" r="6.94"/>
<circle cx="596.6" cy="864" r="6.94"/>
<circle cx="596.6" cy="862.9" r="6.94"/>
<circle cx="596.7" cy="861.8" r="6.94"/>
<circle cx="596.8" cy="860.7" r="6.94"/>
<circle cx="596.9" cy="859.6" r="6.94"/>
<circle cx="597" cy="858.5" r="6.94"/>
<circle cx="597.1" cy="857.4" r="6.94"/>
<circle cx="597.2" cy="856.3" r="6.94"/>
<circle cx="597.3" cy="855.2" r="6.94"/>
<circle cx="597.4" cy="854.1" r="6.94"/>
<circle cx="597.6" cy="853" r="6.94"/>
<circle cx="597.7" cy="851.9" r="6.94"/>
<circle cx="597.8" cy="850.8" r="6.94"/>
<circle cx="597.9" cy="849.7" r="6.94"/>
<circle cx="598" cy="848.6" r="6.94"/>
<circle cx="598.1" cy="847.5" r="6.94"/>
<circle cx="598.3" cy="846.4" r="6.94"/>
<circle cx="598.4" cy="845.3" r="6.94"/>
<circle cx="598.5" cy="844.2" r="6.94"/>
<circle cx="598.7" cy="843.1" r="6.94"/>
<circle cx="598.8" cy="842" r="6.94"/>
<circle cx="621.1" cy="867.7" r="6.94"/>
<circle cx="621.2" cy="866.6" r="6.94"/>
<circle cx="621.2" cy="865.5" r="6.94"/>
<circle cx="621.3" cy="864.5" r="6.94"/>
<circle cx="621.4" cy="863.4" r="6.94"/>
<circle cx="621.5" cy="862.3" r="6.94"/>
<circle cx="621.5" cy="861.2" r="6.94"/>
<circle cx="621.6" cy="860.1" r="6.94"/>
<circle cx="621.7" cy="859" r="6.94"/>
<circle cx="621.8" cy="857.9" r="6.94"/>
<circle cx="621.8" cy="856.8" r="6.94"/>
<circle cx="621.9" cy="855.7" r="6.94"/>
<circle cx="622" cy="854.6" r="6.94"/>
<circle cx="622.1" cy="853.5" r="6.94"/>
<circle cx="622.2" cy="852.4" r="6.94"/>
<circle cx="622.3" cy="851.3" r="6.94"/>
<circle cx="622.4" cy="850.2" r="6.94"/>
<circle cx="622.5" cy="849.1" r="6.94"/>
<circle cx="622.6" cy="848" r="6.94"/>
<circle cx="622.7" cy="846.9" r="6.94"/>
<circle cx="622.8" cy="845.8" r="6.94"/>
<circle cx="622.9" cy="844.6" r="6.94"/>
<circle cx="623" cy="843.5" r="6.94"/>
<circle cx="623.1" cy="842.4" r="6.94"/>
<circle cx="623.2" cy="841.3" r="6.94"/>
<circle cx="644.9" cy="867.9" r="6.94"/>
<circle cx="645" cy="866.8" r="6.94"/>
<circle cx="645.1" cy="865.8" r="6.94"/>
<circle cx="645.1" cy="864.7" r="6.94"/>
<circle cx="645.2" cy="863.6" r="6.94"/>
<circle cx="645.3" cy="862.5" r="6.94"/>
<circle cx="645.3" cy="861.4" r="6.94"/>
<circle cx="645.4" cy="860.3" r="6.94"/>
<circle cx="645.5" cy="859.2" r="6.94"/>
<circle cx="645.5" cy="858.1" r="6.94"/>
<circle cx="645.6" cy="857" r="6.94"/>
<circle cx="645.7" cy="855.9" r="6.94"/>
<circle cx="645.8" cy="854.8" r="6.94"/>
<circle cx="645.8" cy="853.7" r="6.94"/>
<circle cx="645.9" cy="852.6" r="6.94"/>
<circle cx="646" cy="851.5" r="6.94"/>
<circle cx="646.1" cy="850.4" r="6.94"/>
<circle cx="646.2" cy="849.3" r="6.94"/>
<circle cx="646.2" cy="848.2" r="6.94"/>
<circle cx="646.3" cy="847.1" r="6.94"/>
<circle cx="646.4" cy="845.9" r="6.94"/>
<circle cx="646.5" cy="844.8" r="6.94"/>
<circle cx="646.6" cy="843.7" r="6.94"/>
<circle cx="646.7" cy="842.6" r="6.94"/>
<circle cx="646.8" cy="841.5" r="6.94"/>
<circle cx="646.9" cy="840.4" r="6.94"/>
<circle cx="669.1" cy="867.6" r="6.94"/>
<circle cx="669.2" cy="866.5" r="6.94"/>
<circle cx="669.2" cy="865.4" r="6.94"/>
<circle cx="669.3" cy="864.2" r="6.94"/>
<circle cx="669.4" cy="863.2" r="6.94"/>
<circle cx="669.4" cy="862.1" r="6.94"/>
<circle cx="669.5" cy="861" r="6.94"/>
<circle cx="669.5" cy="859.9" r="6.94"/>
<circle cx="669.6" cy="858.8" r="6.94"/>
<circle cx="669.7" cy="857.7" r="6.94"/>
<circle cx="669.7" cy="856.6" r="6.94"/>
<circle cx="669.8" cy="855.5" r="6.94"/>
<circle cx="669.9" cy="854.4" r="6.94"/>
<circle cx="669.9" cy="853.3" r="6.94"/>
<circle cx="670" cy="852.2" r="6.94"/>
<circle cx="670.1" cy="851.1" r="6.94"/>
<circle cx="670.1" cy="850" r="6.94"/>
<circle cx="670.2" cy="848.9" r="6.94"/>
<circle cx="670.3" cy="847.8" r="6.94"/>
<circle cx="670.3" cy="846.7" r="6.94"/>
<circle cx="670.4" cy="845.6" r="6.94"/>
<circle cx="670.5" cy="844.5" r="6.94"/>
<circle cx="670.6" cy="843.4" r="6.94"/>
<circle cx="670.6" cy="842.3" r="6.94"/>
<circle cx="670.7" cy="841.2" r="6.94"/>
<circle cx="670.8" cy="840.1" r="6.94"/>
<circle cx="693" cy="867.7" r="6.94"/>
<circle cx="693.1" cy="866.6" r="6.94"/>
<circle cx="693.1" cy="865.5" r="6.94"/>
<circle cx="693.2" cy="864.4" r="6.94"/>
<circle cx="693.2" cy="863.3" r="6.94"/>
<circle cx="693.3" cy="862.2" r="6.94"/>
<circle cx="693.3" cy="861.1" r="6.94"/>
<circle cx="693.4" cy="860" r="6.94"/>
<circle cx="693.4" cy="858.9" r="6.94"/>
<circle cx="693.5" cy="857.8" r="6.94"/>
<circle cx="693.5" cy="856.7" r="6.94"/>
<circle cx="693.6" cy="855.6" r="6.94"/>
<circle cx="693.6" cy="854.5" r="6.94"/>
<circle cx="693.7" cy="853.4" r="6.94"/>
<circle cx="693.8" cy="852.3" r="6.94"/>
<circle cx="693.8" cy="851.2" r="6.94"/>
<circle cx="693.9" cy="850.1" r="6.94"/>
<circle cx="693.9" cy="849" r="6.94"/>
<circle cx="694" cy="847.9" r="6.94"/>
<circle cx="694.1" cy="846.8" r="6.94"/>
<circle cx="694.1" cy="845.7" r="6.94"/>
<circle cx="694.2" cy="844.6" r="6.94"/>
<circle cx="694.3" cy="843.5" r="6.94"/>
<circle cx="694.4" cy="842.4" r="6.94"/>
<circle cx="694.4" cy="841.3" r="6.94"/>
<circle cx="694.5" cy="840.2" r="6.94"/>
<circle cx="716.6" cy="868.3" r="6.94"/>
<circle cx="716.7" cy="867.2" r="6.94"/>
<circle cx="716.7" cy="866.2" r="6.94"/>
<circle cx="716.8" cy="865.1" r="6.94"/>
<circle cx="716.8" cy="864" r="6.94"/>
<circle cx="716.9" cy="862.9" r="6.94"/>
<circle cx="716.9" cy="861.7" r="6.94"/>
<circle cx="717" cy="860.6" r="6.94"/>
<circle cx="717" cy="859.6" r="6.94"/>
<circle cx="717" cy="858.5" r="6.94"/>
<circle cx="717.1" cy="857.4" r="6.94"/>
<circle cx="717.1" cy="856.3" r="6.94"/>
<circle cx="717.2" cy="855.1" r="6.94"/>
<circle cx="717.2" cy="854" r="6.94"/>
<circle cx="717.3" cy="853" r="6.94"/>
<circle cx="717.3" cy="851.9" r="6.94"/>
<circle cx="717.4" cy="850.8" r="6.94"/>
<circle cx="717.4" cy="849.6" r="6.94"/>
<circle cx="717.5" cy="848.5" r="6.94"/>
<circle cx="717.6" cy="847.4" r="6.94"/>
<circle cx="717.6" cy="846.3" r="6.94"/>
<circle cx="717.7" cy="845.2" r="6.94"/>
<circle cx="717.7" cy="844.1" r="6.94"/>
<circle cx="717.8" cy="843" r="6.94"/>
<circle cx="717.9" cy="841.9" r="6.94"/>
<circle cx="717.9" cy="840.8" r="6.94"/>
<circle cx="718" cy="839.7" r="6.94"/>
<circle cx="739.5" cy="868.2" r="6.94"/>
<circle cx="739.5" cy="867.1" r="6.94"/>
<circle cx="739.6" cy="866" r="6.94"/>
<circle cx="739.6" cy="864.9" r="6.94"/>
<circle cx="739.6" cy="863.8" r="6.94"/>
<circle cx="739.7" cy="862.7" r="6.94"/>
<circle cx="739.7" cy="861.6" r="6.94"/>
<circle cx="739.8" cy="860.5" r="6.94"/>
<circle cx="739.8" cy="859.4" r="6.94"/>
<circle cx="739.9" cy="858.3" r="6.94"/>
<circle cx="739.9" cy="857.2" r="6.94"/>
<circle cx="740" cy="856.1" r="6.94"/>
<circle cx="740" cy="855" r="6.94"/>
<circle cx="740.1" cy="853.9" r="6.94"/>
<circle cx="740.1" cy="852.8" r="6.94"/>
<circle cx="740.1" cy="851.7" r="6.94"/>
<circle cx="740.2" cy="850.6" r="6.94"/>
<circle cx="740.2" cy="849.5" r="6.94"/>
<circle cx="740.3" cy="848.4" r="6.94"/>
<circle cx="740.3" cy="847.3" r="6.94"/>
<circle cx="740.4" cy="846.2" r="6.94"/>
<circle cx="740.5" cy="845.1" r="6.94"/>
<circle cx="740.5" cy="844" r="6.94"/>
<circle cx="740.6" cy="842.9" r="6.94"/>
<circle cx="740.6" cy="841.8" r="6.94"/>
<circle cx="740.7" cy="840.7" r="6.94"/>
<circle cx="740.7" cy="839.6" r="6.94"/>
<circle cx="740.8" cy="838.5" r="6.94"/>
<circle cx="763.2" cy="867.8" r="6.94"/>
<circle cx="763.3" cy="866.7" r="6.94"/>
<circle cx="763.3" cy="865.6" r="6.94"/>
<circle cx="763.3" cy="864.5" r="6.94"/>
<circle cx="763.4" cy="863.4" r="6.94"/>
<circle cx="763.4" cy="862.3" r="6.94"/>
<circle cx="763.5" cy="861.2" r="6.94"/>
<circle cx="763.5" cy="860.1" r="6.94"/>
<circle cx="763.5" cy="859" r="6.94"/>
<circle cx="763.6" cy="857.9" r="6.94"/>
<circle cx="763.6" cy="856.7" r="6.94"/>
<circle cx="763.7" cy="855.6" r="6.94"/>
<circle cx="763.7" cy="854.6" r="6.94"/>
<circle cx="763.7" cy="853.5" r="6.94"/>
<circle cx="763.8" cy="852.4" r="6.94"/>
<circle cx="763.8" cy="851.3" r="6.94"/>
<circle cx="763.9" cy="850.2" r="6.94"/>
<circle cx="763.9" cy="849.1" r="6.94"/>
<circle cx="764" cy="848" r="6.94"/>
<circle cx="764" cy="846.9" r="6.94"/>
<circle cx="764" cy="845.8" r="6.94"/>
<circle cx="764.1" cy="844.6" r="6.94"/>
<circle cx="764.1" cy="843.5" r="6.94"/>
<circle cx="764.2" cy="842.5" r="6.94"/>
<circle cx="764.2" cy="841.4" r="6.94"/>
<circle cx="764.3" cy="840.3" r="6.94"/>
<circle cx="764.3" cy="839.2" r="6.94"/>
<circle cx="764.4" cy="838.1" r="6.94"/>
<circle cx="786" cy="867.6" r="6.94"/>
<circle cx="786.1" cy="866.5" r="6.94"/>
<circle cx="786.1" cy="865.4" r="6.94"/>
<circle cx="786.1" cy="864.3" r="6.94"/>
<circle cx="786.2" cy="863.2" r="6.94"/>
<circle cx="786.2" cy="862.1" r="6.94"/>
<circle cx="786.2" cy="861" r="6.94"/>
<circle cx="786.3" cy="859.9" r="6.94"/>
<circle cx="786.3" cy="858.8" r="6.94"/>
<circle cx="786.3" cy="857.7" r="6.94"/>
<circle cx="786.4" cy="856.6" r="6.94"/>
<circle cx="786.4" cy="855.5" r="6.94"/>
<circle cx="786.4" cy="854.4" r="6.94"/>
<circle cx="786.5" cy="853.3" r="6.94"/>
<circle cx="786.5" cy="852.2" r="6.94"/>
<circle cx="786.5" cy="851.1" r="6.94"/>
<circle cx="786.6" cy="850" r="6.94"/>
<circle cx="786.6" cy="848.9" r="6.94"/>
<circle cx="786.6" cy="847.8" r="6.94"/>
<circle cx="786.7" cy="846.7" r="6.94"/>
<circle cx="786.7" cy="845.6" r="6.94"/>
<circle cx="786.8" cy="844.5" r="6.94"/>
<circle cx="786.8" cy="843.5" r="6.94"/>
<circle cx="786.9" cy="842.3" r="6.94"/>
<circle cx="786.9" cy="841.2" r="6.94"/>
<circle cx="786.9" cy="840.1" r="6.94"/>
<circle cx="787" cy="839" r="6.94"/>
<circle cx="787" cy="837.9" r="6.94"/>
<circle cx="807.9" cy="867.4" r="6.94"/>
<circle cx="807.9" cy="866.3" r="6.94"/>
<circle cx="808" cy="865.2" r="6.94"/>
<circle cx="808" cy="864.1" r="6.94"/>
<circle cx="808" cy="863" r="6.94"/>
<circle cx="808.1" cy="861.9" r="6.94"/>
<circle cx="808.1" cy="860.8" r="6.94"/>
<circle cx="808.1" cy="859.7" r="6.94"/>
<circle cx="808.2" cy="858.6" r="6.94"/>
<circle cx="808.2" cy="857.5" r="6.94"/>
<circle cx="808.2" cy="856.4" r="6.94"/>
<circle cx="808.3" cy="855.3" r="6.94"/>
<circle cx="808.3" cy="854.2" r="6.94"/>
<circle cx="808.3" cy="853.1" r="6.94"/>
<circle cx="808.4" cy="852" r="6.94"/>
<circle cx="808.4" cy="850.9" r="6.94"/>
<circle cx="808.4" cy="849.8" r="6.94"/>
<circle cx="808.5" cy="848.7" r="6.94"/>
<circle cx="808.5" cy="847.6" r="6.94"/>
<circle cx="808.5" cy="846.5" r="6.94"/>
<circle cx="808.6" cy="845.4" r="6.94"/>
<circle cx="808.6" cy="844.3" r="6.94"/>
<circle cx="808.7" cy="843.2" r="6.94"/>
<circle cx="808.7" cy="842.1" r="6.94"/>
<circle cx="808.7" cy="841" r="6.94"/>
<circle cx="808.8" cy="839.9" r="6.94"/>
<circle cx="808.8" cy="838.8" r="6.94"/>
<circle cx="808.9" cy="837.7" r="6.94"/>
<circle cx="830.5" cy="868" r="6.94"/>
<circle cx="830.6" cy="866.9" r="6.94"/>
<circle cx="830.6" cy="865.8" r="6.94"/>
<circle cx="830.6" cy="864.7" r="6.94"/>
<circle cx="830.6" cy="863.6" r="6.94"/>
<circle cx="830.7" cy="862.5" r="6.94"/>
<circle cx="830.7" cy="861.4" r="6.94"/>
<circle cx="830.7" cy="860.3" r="6.94"/>
<circle cx="830.7" cy="859.2" r="6.94"/>
<circle cx="830.8" cy="858.1" r="6.94"/>
<circle cx="830.8" cy="857" r="6.94"/>
<circle cx="830.8" cy="855.8" r="6.94"/>
<circle cx="830.9" cy="854.8" r="6.94"/>
<circle cx="830.9" cy="853.7" r="6.94"/>
<circle cx="830.9" cy="852.6" r="6.94"/>
<circle cx="830.9" cy="851.5" r="6.94"/>
<circle cx="831" cy="850.4" r="6.94"/>
<circle cx="831" cy="849.3" r="6.94"/>
<circle cx="831" cy="848.2" r="6.94"/>
<circle cx="831.1" cy="847.1" r="6.94"/>
<circle cx="831.1" cy="846" r="6.94"/>
<circle cx="831.1" cy="844.9" r="6.94"/>
<circle cx="831.2" cy="843.8" r="6.94"/>
<circle cx="831.2" cy="842.7" r="6.94"/>
<circle cx="831.2" cy="841.6" r="6.94"/>
<circle cx="831.3" cy="840.5" r="6.94"/>
<circle cx="831.3" cy="839.4" r="6.94"/>
<circle cx="831.3" cy="838.3" r="6.94"/>
<circle cx="831.4" cy="837.2" r="6.94"/>
<circle cx="852.4" cy="868" r="6.94"/>
<circle cx="852.5" cy="866.9" r="6.94"/>
<circle cx="852.5" cy="865.8" r="6.94"/>
<circle cx="852.5" cy="864.7" r="6.94"/>
<circle cx="852.5" cy="863.6" r="6.94"/>
<circle cx="852.6" cy="862.5" r="6.94"/>
<circle cx="852.6" cy="861.4" r="6.94"/>
<circle cx="852.6" cy="860.3" r="6.94"/>
<circle cx="852.6" cy="859.2" r="6.94"/>
<circle cx="852.7" cy="858.1" r="6.94"/>
<circle cx="852.7" cy="857" r="6.94"/>
<circle cx="852.7" cy="855.9" r="6.94"/>
<circle cx="852.7" cy="854.8" r="6.94"/>
<circle cx="852.8" cy="853.7" r="6.94"/>
<circle cx="852.8" cy="852.6" r="6.94"/>
<circle cx="852.8" cy="851.5" r="6.94"/>
<circle cx="852.8" cy="850.4" r="6.94"/>
<circle cx="852.9" cy="849.3" r="6.94"/>
<circle cx="852.9" cy="848.2" r="6.94"/>
<circle cx="852.9" cy="847.1" r="6.94"/>
<circle cx="853" cy="846" r="6.94"/>
<circle cx="853" cy="844.9" r="6.94"/>
<circle cx="853" cy="843.8" r="6.94"/>
<circle cx="853.1" cy="842.7" r="6.94"/>
<circle cx="853.1" cy="841.6" r="6.94"/>
<circle cx="853.1" cy="840.5" r="6.94"/>
<circle cx="853.2" cy="839.4" r="6.94"/>
<circle cx="853.2" cy="838.3" r="6.94"/>
<circle cx="853.2" cy="837.2" r="6.94"/>
<circle cx="853.3" cy="836.1" r="6.94"/>
<circle cx="874.3" cy="868.2" r="6.94"/>
<circle cx="874.3" cy="867.1" r="6.94"/>
<circle cx="874.4" cy="866" r="6.94"/>
<circle cx="874.4" cy="864.9" r="6.94"/>
<circle cx="874.4" cy="863.8" r="6.94"/>
<circle cx="874.4" cy="862.7" r="6.94"/>
<circle cx="874.5" cy="861.6" r="6.94"/>
<circle cx="874.5" cy="860.5" r="6.94"/>
<circle cx="874.5" cy="859.4" r="6.94"/>
<circle cx="874.5" cy="858.3" r="6.94"/>
<circle cx="874.6" cy="857.2" r="6.94"/>
<circle cx="874.6" cy="856" r="6.94"/>
<circle cx="874.6" cy="854.9" r="6.94"/>
<circle cx="874.6" cy="853.8" r="6.94"/>
<circle cx="874.6" cy="852.7" r="6.94"/>
<circle cx="874.7" cy="851.7" r="6.94"/>
<circle cx="874.7" cy="850.6" r="6.94"/>
<circle cx="874.7" cy="849.5" r="6.94"/>
<circle cx="874.7" cy="848.4" r="6.94"/>
<circle cx="874.8" cy="847.3" r="6.94"/>
<circle cx="874.8" cy="846.2" r="6.94"/>
<circle cx="874.8" cy="845.1" r="6.94"/>
<circle cx="874.9" cy="844" r="6.94"/>
<circle cx="874.9" cy="842.9" r="6.94"/>
<circle cx="874.9" cy="841.8" r="6.94"/>
<circle cx="874.9" cy="840.6" r="6.94"/>
<circle cx="875" cy="839.5" r="6.94"/>
<circle cx="875" cy="838.4" r="6.94"/>
<circle cx="875" cy="837.3" r="6.94"/>
<circle cx="875.1" cy="836.3" r="6.94"/>
<circle cx="875.1" cy="835.2" r="6.94"/>
<circle cx="895.5" cy="868.3" r="6.94"/>
<circle cx="895.5" cy="867.2" r="6.94"/>
<circle cx="895.5" cy="866.1" r="6.94"/>
<circle cx="895.5" cy="865" r="6.94"/>
<circle cx="895.6" cy="863.9" r="6.94"/>
<circle cx="895.6" cy="862.8" r="6.94"/>
<circle cx="895.6" cy="861.7" r="6.94"/>
<circle cx="895.6" cy="860.6" r="6.94"/>
<circle cx="895.7" cy="859.5" r="6.94"/>
<circle cx="895.7" cy="858.4" r="6.94"/>
<circle cx="895.7" cy="857.3" r="6.94"/>
<circle cx="895.7" cy="856.2" r="6.94"/>
<circle cx="895.7" cy="855.1" r="6.94"/>
<circle cx="895.8" cy="854" r="6.94"/>
<circle cx="895.8" cy="852.9" r="6.94"/>
<circle cx="895.8" cy="851.8" r="6.94"/>
<circle cx="895.8" cy="850.7" r="6.94"/>
<circle cx="895.9" cy="849.6" r="6.94"/>
<circle cx="895.9" cy="848.5" r="6.94"/>
<circle cx="895.9" cy="847.4" r="6.94"/>
<circle cx="895.9" cy="846.3" r="6.94"/>
<circle cx="896" cy="845.2" r="6.94"/>
<circle cx="896" cy="844.1" r="6.94"/>
<circle cx="896" cy="843" r="6.94"/>
<circle cx="896" cy="841.9" r="6.94"/>
<circle cx="896.1" cy="840.8" r="6.94"/>
<circle cx="896.1" cy="839.7" r="6.94"/>
<circle cx="896.1" cy="838.6" r="6.94"/>
<circle cx="896.2" cy="837.5" r="6.94"/>
<circle cx="896.2" cy="836.4" r="6.94"/>
<circle cx="896.2" cy="835.3" r="6.94"/>
<circle cx="896.2" cy="834.2" r="6.94"/>
<circle cx="916.7" cy="863" r="6.94"/>
<circle cx="916.8" cy="861.9" r="6.94"/>
<circle cx="916.8" cy="860.8" r="6.94"/>
<circle cx="916.8" cy="859.7" r="6.94"/>
<circle cx="916.8" cy="858.6" r="6.94"/>
<circle cx="916.8" cy="857.5" r="6.94"/>
<circle cx="916.9" cy="856.4" r="6.94"/>
<circle cx="916.9" cy="855.3" r="6.94"/>
<circle cx="916.9" cy="854.2" r="6.94"/>
<circle cx="916.9" cy="853.1" r="6.94"/>
<circle cx="917" cy="852" r="6.94"/>
<circle cx="917" cy="850.9" r="6.94"/>
<circle cx="917" cy="849.8" r="6.94"/>
<circle cx="917" cy="848.7" r="6.94"/>
<circle cx="917.1" cy="847.6" r="6.94"/>
<circle cx="917.1" cy="846.5" r="6.94"/>
<circle cx="917.1" cy="845.4" r="6.94"/>
<circle cx="917.1" cy="844.3" r="6.94"/>
<circle cx="917.1" cy="843.2" r="6.94"/>
<circle cx="917.2" cy="842.1" r="6.94"/>
<circle cx="917.2" cy="841" r="6.94"/>
<circle cx="917.2" cy="839.9" r="6.94"/>
<circle cx="917.2" cy="838.8" r="6.94"/>
<circle cx="917.3" cy="837.7" r="6.94"/>
<circle cx="917.3" cy="836.6" r="6.94"/>
<circle cx="917.3" cy="835.5" r="6.94"/>
<circle cx="917.4" cy="834.4" r="6.94"/>
<circle cx="937.8" cy="857" r="6.94"/>
<circle cx="937.8" cy="855.9" r="6.94"/>
<circle cx="937.8" cy="854.8" r="6.94"/>
<circle cx="937.8" cy="853.7" r="6.94"/>
<circle cx="937.8" cy="852.6" r="6.94"/>
<circle cx="937.9" cy="851.5" r="6.94"/>
<circle cx="937.9" cy="850.4" r="6.94"/>
<circle cx="937.9" cy="849.3" r="6.94"/>
<circle cx="937.9" cy="848.2" r="6.94"/>
<circle cx="938" cy="847.1" r="6.94"/>
<circle cx="938" cy="846" r="6.94"/>
<circle cx="938" cy="844.9" r="6.94"/>
<circle cx="938" cy="843.8" r="6.94"/>
<circle cx="938.1" cy="842.7" r="6.94"/>
<circle cx="938.1" cy="841.6" r="6.94"/>
<circle cx="938.1" cy="840.4" r="6.94"/>
<circle cx="938.1" cy="839.3" r="6.94"/>
<circle cx="938.2" cy="838.2" r="6.94"/>
<circle cx="938.2" cy="837.1" r="6.94"/>
<circle cx="938.2" cy="836" r="6.94"/>
<circle cx="938.2" cy="834.9" r="6.94"/>
<circle cx="938.3" cy="833.8" r="6.94"/>
<circle cx="958.5" cy="851" r="6.94"/>
<circle cx="958.5" cy="849.9" r="6.94"/>
<circle cx="958.6" cy="848.8" r="6.94"/>
<circle cx="958.6" cy="847.7" r="6.94"/>
<circle cx="958.6" cy="846.6" r="6.94"/>
<circle cx="958.6" cy="845.5" r="6.94"/>
<circle cx="958.6" cy="844.4" r="6.94"/>
<circle cx="958.7" cy="843.3" r="6.94"/>
<circle cx="958.7" cy="842.2" r="6.94"/>
<circle cx="958.7" cy="841.1" r="6.94"/>
<circle cx="958.7" cy="840" r="6.94"/>
<circle cx="958.8" cy="838.9" r="6.94"/>
<circle cx="958.8" cy="837.8" r="6.94"/>
<circle cx="958.8" cy="836.7" r="6.94"/>
<circle cx="958.8" cy="835.6" r="6.94"/>
<circle cx="958.9" cy="834.5" r="6.94"/>
<circle cx="958.9" cy="833.4" r="6.94"/>
<circle cx="958.9" cy="832.3" r="6.94"/>
<circle cx="978.6" cy="845" r="6.94"/>
<circle cx="978.6" cy="843.9" r="6.94"/>
<circle cx="978.6" cy="842.8" r="6.94"/>
<circle cx="978.6" cy="841.7" r="6.94"/>
<circle cx="978.6" cy="840.6" r="6.94"/>
<circle cx="978.7" cy="839.5" r="6.94"/>
<circle cx="978.7" cy="838.4" r="6.94"/>
<circle cx="978.7" cy="837.3" r="6.94"/>
<circle cx="978.7" cy="836.2" r="6.94"/>
<circle cx="978.8" cy="835.1" r="6.94"/>
<circle cx="978.8" cy="834" r="6.94"/>
<circle cx="978.8" cy="832.9" r="6.94"/>
<circle cx="978.8" cy="831.8" r="6.94"/>
<circle cx="998.8" cy="838.9" r="6.94"/>
<circle cx="998.8" cy="837.8" r="6.94"/>
<circle cx="998.9" cy="836.7" r="6.94"/>
<circle cx="998.9" cy="835.6" r="6.94"/>
<circle cx="998.9" cy="834.5" r="6.94"/>
<circle cx="998.9" cy="833.4" r="6.94"/>
<circle cx="999" cy="832.3" r="6.94"/>
<circle cx="999" cy="831.2" r="6.94"/>
<circle cx="1018.6" cy="834.1" r="6.94"/>
<circle cx="1018.6" cy="833" r="6.94"/>
<circle cx="1018.6" cy="831.9" r="6.94"/>
<circle cx="1018.7" cy="830.7" r="6.94"/>
</g>
</g>
<rect x="225.5" y="144.5" width="1395" height="924" fill="none" stroke="#000" stroke-width="1.11"/>
<path d="M375.3,1068.5v4.9M595.5,1068.5v4.9M815.6,1068.5v4.9M1035.8,1068.5v4.9M1256.0,1068.5v4.9M1476.1,1068.5v4.9M225.5,187.5h-4.9M225.5,312.4h-4.9M225.5,437.2h-4.9M225.5,562.1h-4.9M225.5,686.9h-4.9M225.5,811.8h-4.9M225.5,936.6h-4.9M225.5,1061.5h-4.9" stroke="#000" stroke-width="1.11" fill="none"/>
<g opacity="0.999">
<text class="t" x="375.3" y="1088.8" text-anchor="middle">144.70</text>
<text class="t" x="595.5" y="1088.8" text-anchor="middle">144.75</text>
<text class="t" x="815.6" y="1088.8" text-anchor="middle">144.80</text>
<text class="t" x="1035.8" y="1088.8" text-anchor="middle">144.85</text>
<text class="t" x="1256.0" y="1088.8" text-anchor="middle">144.90</text>
<text class="t" x="1476.1" y="1088.8" text-anchor="middle">144.95</text>
<text class="t" x="214.9" y="192.8" text-anchor="end">900</text>
<text class="t" x="214.9" y="317.7" text-anchor="end">800</text>
<text class="t" x="214.9" y="442.5" text-anchor="end">700</text>
<text class="t" x="214.9" y="567.4" text-anchor="end">600</text>
<text class="t" x="214.9" y="692.2" text-anchor="end">500</text>
<text class="t" x="214.9" y="817.1" text-anchor="end">400</text>
<text class="t" x="214.9" y="941.9" text-anchor="end">300</text>
<text class="t" x="214.9" y="1066.8" text-anchor="end">200</text>
<text class="t" x="922.5" y="1107.6" text-anchor="middle">star_age (Myr)</text>
<text class="t" transform="translate(179.3,606.8) rotate(-90)" text-anchor="middle">O1 period (days)</text>
</g>
<rect x="235.9" y="154.9" width="445.4" height="182.3" rx="2.8" ry="2.8" fill="#fff" fill-opacity="0.8" stroke="#ccc" stroke-opacity="0.8" stroke-width="1.39"/>
<line x1="242.9" y1="171" x2="286.1" y2="171" stroke="#000" stroke-width="2.08"/>
<circle cx="265.4" cy="171.3" r="2.1" fill="#000"/>
<line x1="241.7" y1="202.7" x2="287.5" y2="202.7" stroke="#00f" stroke-width="4.17"/>
<line x1="241.7" y1="233.3" x2="287.5" y2="233.3" stroke="#008000" stroke-width="4.17"/>
<line x1="242.8" y1="263.8" x2="286.3" y2="263.8" stroke="#ffa500" stroke-width="2.08"/>
<circle class="y" cx="265.4" cy="308.5" r="6.94"/>
<g opacity="0.999">
<text class="l" x="302.5" y="178.85">m4.60_z0.1000</text>
<text class="l" x="302.5" y="210.05">peak detector horizontal bounds</text>
<text class="l" x="302.5" y="240.95">min. P consistent with observations</text>
<text class="l" x="302.5" y="271.25">max. P must fall within this span</text>
<text class="l" x="302.5" y="300.95">intersection w/ P,L,T,R</text>
<text class="l" x="302.5" y="325.15">loosely defined</text>
</g>
</svg></body></html>
